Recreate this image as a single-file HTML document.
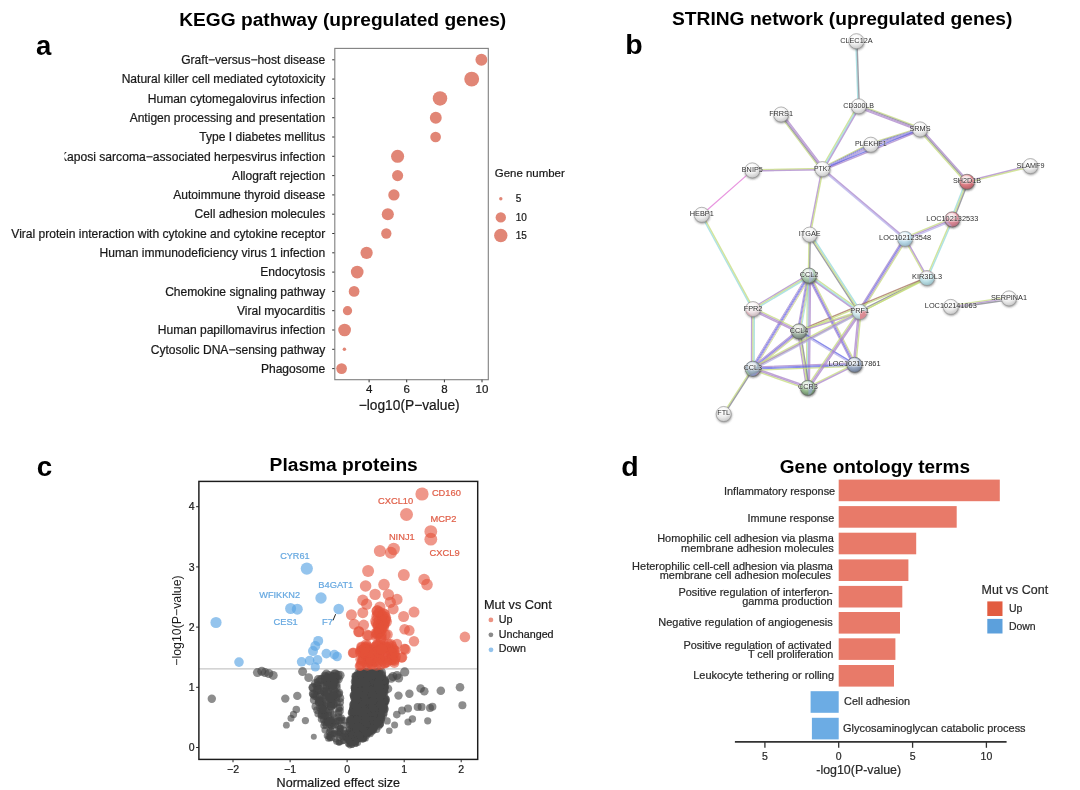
<!DOCTYPE html>
<html><head><meta charset="utf-8"><title>Figure</title>
<style>html,body{margin:0;padding:0;background:#fff;}svg{display:block;font-family:"Liberation Sans",sans-serif;transform:translateZ(0);}</style></head><body>
<svg width="1080" height="790" viewBox="0 0 1080 790">
<filter id="soft" x="0" y="0" width="100%" height="100%" filterUnits="userSpaceOnUse"><feGaussianBlur stdDeviation="0.45"/></filter>
<g filter="url(#soft)">
<text x="36.0" y="55.4" font-size="27.5" font-weight="bold" fill="#000">a</text>
<text x="625.2" y="54.0" font-size="28.5" font-weight="bold" fill="#000">b</text>
<text x="36.8" y="475.6" font-size="27.8" font-weight="bold" fill="#000">c</text>
<text x="621.3" y="475.6" font-size="28.5" font-weight="bold" fill="#000">d</text>
<text x="179.2" y="25.8" font-size="19.2" font-weight="bold" textLength="327.0" lengthAdjust="spacingAndGlyphs" fill="#000">KEGG pathway (upregulated genes)</text>
<text x="672.0" y="24.6" font-size="19.2" font-weight="bold" textLength="340.4" lengthAdjust="spacingAndGlyphs" fill="#000">STRING network (upregulated genes)</text>
<text x="269.6" y="471.4" font-size="19.2" font-weight="bold" textLength="148.2" lengthAdjust="spacingAndGlyphs" fill="#000">Plasma proteins</text>
<text x="779.8" y="472.6" font-size="19" font-weight="bold" textLength="190.2" lengthAdjust="spacingAndGlyphs" fill="#000">Gene ontology terms</text>
<clipPath id="clipA"><rect x="64.5" y="40" width="275" height="350"/></clipPath>
<text x="325.2" y="64.0" font-size="12.05" text-anchor="end" fill="#1a1a1a" stroke="#1a1a1a" stroke-width="0.22">Graft−versus−host disease</text>
<text x="325.2" y="83.3" font-size="12.05" text-anchor="end" fill="#1a1a1a" stroke="#1a1a1a" stroke-width="0.22">Natural killer cell mediated cytotoxicity</text>
<text x="325.2" y="102.6" font-size="12.05" text-anchor="end" fill="#1a1a1a" stroke="#1a1a1a" stroke-width="0.22">Human cytomegalovirus infection</text>
<text x="325.2" y="121.9" font-size="12.05" text-anchor="end" fill="#1a1a1a" stroke="#1a1a1a" stroke-width="0.22">Antigen processing and presentation</text>
<text x="325.2" y="141.2" font-size="12.05" text-anchor="end" fill="#1a1a1a" stroke="#1a1a1a" stroke-width="0.22">Type I diabetes mellitus</text>
<text x="325.2" y="160.5" font-size="12.05" text-anchor="end" textLength="266.3" lengthAdjust="spacingAndGlyphs" fill="#1a1a1a" clip-path="url(#clipA)" stroke="#1a1a1a" stroke-width="0.22">Kaposi sarcoma−associated herpesvirus infection</text>
<text x="325.2" y="179.8" font-size="12.05" text-anchor="end" fill="#1a1a1a" stroke="#1a1a1a" stroke-width="0.22">Allograft rejection</text>
<text x="325.2" y="199.1" font-size="12.05" text-anchor="end" fill="#1a1a1a" stroke="#1a1a1a" stroke-width="0.22">Autoimmune thyroid disease</text>
<text x="325.2" y="218.4" font-size="12.05" text-anchor="end" fill="#1a1a1a" stroke="#1a1a1a" stroke-width="0.22">Cell adhesion molecules</text>
<text x="325.2" y="237.7" font-size="12.05" text-anchor="end" fill="#1a1a1a" stroke="#1a1a1a" stroke-width="0.22">Viral protein interaction with cytokine and cytokine receptor</text>
<text x="325.2" y="257.0" font-size="12.05" text-anchor="end" fill="#1a1a1a" stroke="#1a1a1a" stroke-width="0.22">Human immunodeficiency virus 1 infection</text>
<text x="325.2" y="276.3" font-size="12.05" text-anchor="end" fill="#1a1a1a" stroke="#1a1a1a" stroke-width="0.22">Endocytosis</text>
<text x="325.2" y="295.6" font-size="12.05" text-anchor="end" fill="#1a1a1a" stroke="#1a1a1a" stroke-width="0.22">Chemokine signaling pathway</text>
<text x="325.2" y="314.9" font-size="12.05" text-anchor="end" fill="#1a1a1a" stroke="#1a1a1a" stroke-width="0.22">Viral myocarditis</text>
<text x="325.2" y="334.2" font-size="12.05" text-anchor="end" fill="#1a1a1a" stroke="#1a1a1a" stroke-width="0.22">Human papillomavirus infection</text>
<text x="325.2" y="353.5" font-size="12.05" text-anchor="end" fill="#1a1a1a" stroke="#1a1a1a" stroke-width="0.22">Cytosolic DNA−sensing pathway</text>
<text x="325.2" y="372.8" font-size="12.05" text-anchor="end" fill="#1a1a1a" stroke="#1a1a1a" stroke-width="0.22">Phagosome</text>
<line x1="332.2" x2="334.8" y1="59.8" y2="59.8" stroke="#333" stroke-width="1"/>
<line x1="332.2" x2="334.8" y1="79.1" y2="79.1" stroke="#333" stroke-width="1"/>
<line x1="332.2" x2="334.8" y1="98.4" y2="98.4" stroke="#333" stroke-width="1"/>
<line x1="332.2" x2="334.8" y1="117.7" y2="117.7" stroke="#333" stroke-width="1"/>
<line x1="332.2" x2="334.8" y1="137.0" y2="137.0" stroke="#333" stroke-width="1"/>
<line x1="332.2" x2="334.8" y1="156.3" y2="156.3" stroke="#333" stroke-width="1"/>
<line x1="332.2" x2="334.8" y1="175.6" y2="175.6" stroke="#333" stroke-width="1"/>
<line x1="332.2" x2="334.8" y1="194.9" y2="194.9" stroke="#333" stroke-width="1"/>
<line x1="332.2" x2="334.8" y1="214.2" y2="214.2" stroke="#333" stroke-width="1"/>
<line x1="332.2" x2="334.8" y1="233.5" y2="233.5" stroke="#333" stroke-width="1"/>
<line x1="332.2" x2="334.8" y1="252.8" y2="252.8" stroke="#333" stroke-width="1"/>
<line x1="332.2" x2="334.8" y1="272.1" y2="272.1" stroke="#333" stroke-width="1"/>
<line x1="332.2" x2="334.8" y1="291.4" y2="291.4" stroke="#333" stroke-width="1"/>
<line x1="332.2" x2="334.8" y1="310.7" y2="310.7" stroke="#333" stroke-width="1"/>
<line x1="332.2" x2="334.8" y1="330.0" y2="330.0" stroke="#333" stroke-width="1"/>
<line x1="332.2" x2="334.8" y1="349.3" y2="349.3" stroke="#333" stroke-width="1"/>
<line x1="332.2" x2="334.8" y1="368.6" y2="368.6" stroke="#333" stroke-width="1"/>
<rect x="334.8" y="48.4" width="153.5" height="331.3" fill="none" stroke="#7f7f7f" stroke-width="1.1"/>
<circle cx="481.4" cy="59.8" r="5.95" fill="#E18676"/>
<circle cx="471.7" cy="79.1" r="7.45" fill="#E18676"/>
<circle cx="440.0" cy="98.4" r="7.25" fill="#E18676"/>
<circle cx="435.8" cy="117.7" r="5.95" fill="#E18676"/>
<circle cx="435.6" cy="137.0" r="5.35" fill="#E18676"/>
<circle cx="397.6" cy="156.3" r="6.55" fill="#E18676"/>
<circle cx="397.6" cy="175.6" r="5.55" fill="#E18676"/>
<circle cx="393.9" cy="194.9" r="5.65" fill="#E18676"/>
<circle cx="387.8" cy="214.2" r="6.05" fill="#E18676"/>
<circle cx="386.3" cy="233.5" r="5.15" fill="#E18676"/>
<circle cx="366.6" cy="252.8" r="6.15" fill="#E18676"/>
<circle cx="357.2" cy="272.1" r="6.35" fill="#E18676"/>
<circle cx="354.1" cy="291.4" r="5.35" fill="#E18676"/>
<circle cx="347.5" cy="310.7" r="4.65" fill="#E18676"/>
<circle cx="344.6" cy="330.0" r="6.35" fill="#E18676"/>
<circle cx="344.4" cy="349.3" r="1.75" fill="#E18676"/>
<circle cx="341.6" cy="368.6" r="5.35" fill="#E18676"/>
<line x1="369.1" x2="369.1" y1="379.7" y2="382.3" stroke="#333" stroke-width="1"/>
<text x="369.1" y="393.1" font-size="11.5" text-anchor="middle" fill="#1a1a1a" stroke="#1a1a1a" stroke-width="0.22">4</text>
<line x1="406.7" x2="406.7" y1="379.7" y2="382.3" stroke="#333" stroke-width="1"/>
<text x="406.7" y="393.1" font-size="11.5" text-anchor="middle" fill="#1a1a1a" stroke="#1a1a1a" stroke-width="0.22">6</text>
<line x1="444.4" x2="444.4" y1="379.7" y2="382.3" stroke="#333" stroke-width="1"/>
<text x="444.4" y="393.1" font-size="11.5" text-anchor="middle" fill="#1a1a1a" stroke="#1a1a1a" stroke-width="0.22">8</text>
<line x1="482.0" x2="482.0" y1="379.7" y2="382.3" stroke="#333" stroke-width="1"/>
<text x="482.0" y="393.1" font-size="11.5" text-anchor="middle" fill="#1a1a1a" stroke="#1a1a1a" stroke-width="0.22">10</text>
<text x="409.2" y="409.6" font-size="13.8" text-anchor="middle" textLength="101.0" lengthAdjust="spacingAndGlyphs" fill="#1a1a1a" stroke="#1a1a1a" stroke-width="0.22">−log10(P−value)</text>
<text x="494.8" y="176.9" font-size="11.5" textLength="70.0" lengthAdjust="spacingAndGlyphs" fill="#1a1a1a" stroke="#1a1a1a" stroke-width="0.22">Gene number</text>
<circle cx="500.8" cy="198.7" r="1.70" fill="#E18676"/>
<text x="515.8" y="201.9" font-size="10" fill="#1a1a1a" stroke="#1a1a1a" stroke-width="0.22">5</text>
<circle cx="500.8" cy="217.4" r="5.20" fill="#E18676"/>
<text x="515.8" y="220.8" font-size="10" fill="#1a1a1a" stroke="#1a1a1a" stroke-width="0.22">10</text>
<circle cx="500.8" cy="235.5" r="6.70" fill="#E18676"/>
<text x="515.8" y="238.8" font-size="10" fill="#1a1a1a" stroke="#1a1a1a" stroke-width="0.22">15</text>
<defs>
<radialGradient id="g_white" cx="0.42" cy="0.30" r="0.75"><stop offset="0" stop-color="#ffffff"/><stop offset="0.55" stop-color="#ececec"/><stop offset="1" stop-color="#c2c2c2"/></radialGradient>
<radialGradient id="g_red" cx="0.42" cy="0.30" r="0.75"><stop offset="0" stop-color="#fbeaea"/><stop offset="0.55" stop-color="#dd7d84"/><stop offset="1" stop-color="#b05a62"/></radialGradient>
<radialGradient id="g_pink" cx="0.42" cy="0.30" r="0.75"><stop offset="0" stop-color="#fdf0f2"/><stop offset="0.55" stop-color="#dc8b98"/><stop offset="1" stop-color="#b06878"/></radialGradient>
<radialGradient id="g_lblue" cx="0.42" cy="0.30" r="0.75"><stop offset="0" stop-color="#ffffff"/><stop offset="0.55" stop-color="#bcdcea"/><stop offset="1" stop-color="#8fb2c2"/></radialGradient>
<radialGradient id="g_lcyan" cx="0.42" cy="0.30" r="0.75"><stop offset="0" stop-color="#ffffff"/><stop offset="0.55" stop-color="#bfe2e8"/><stop offset="1" stop-color="#90b8c0"/></radialGradient>
<radialGradient id="g_prf" cx="0.42" cy="0.30" r="0.75"><stop offset="0" stop-color="#ffffff"/><stop offset="0.55" stop-color="#cfe6ea"/><stop offset="1" stop-color="#98b6bc"/></radialGradient>
<radialGradient id="g_ccl2" cx="0.42" cy="0.30" r="0.75"><stop offset="0" stop-color="#f2f8ee"/><stop offset="0.55" stop-color="#aecdb0"/><stop offset="1" stop-color="#7a9482"/></radialGradient>
<radialGradient id="g_ccl4" cx="0.42" cy="0.30" r="0.75"><stop offset="0" stop-color="#f4f4e8"/><stop offset="0.55" stop-color="#a3b4a6"/><stop offset="1" stop-color="#6c7c72"/></radialGradient>
<radialGradient id="g_ccl3" cx="0.42" cy="0.30" r="0.75"><stop offset="0" stop-color="#eef2f6"/><stop offset="0.55" stop-color="#9fb2c2"/><stop offset="1" stop-color="#6c7a88"/></radialGradient>
<radialGradient id="g_ccr3" cx="0.42" cy="0.30" r="0.75"><stop offset="0" stop-color="#e8f2e2"/><stop offset="0.55" stop-color="#96ba8e"/><stop offset="1" stop-color="#5e7c5e"/></radialGradient>
<radialGradient id="g_bgray" cx="0.42" cy="0.30" r="0.75"><stop offset="0" stop-color="#eef2f8"/><stop offset="0.55" stop-color="#98a8c2"/><stop offset="1" stop-color="#68768e"/></radialGradient>
<radialGradient id="g_fpr" cx="0.42" cy="0.30" r="0.75"><stop offset="0" stop-color="#ffffff"/><stop offset="0.55" stop-color="#efe3e6"/><stop offset="1" stop-color="#c0aeb4"/></radialGradient>
<filter id="nsh" x="-50%" y="-50%" width="200%" height="200%"><feGaussianBlur stdDeviation="0.9"/></filter>
<filter id="eb" x="-5%" y="-5%" width="110%" height="110%"><feGaussianBlur stdDeviation="0.6"/></filter>
</defs>
<g filter="url(#eb)" stroke-linecap="round">
<line x1="855.8" y1="41.2" x2="858.1" y2="106.3" stroke="#93d8dc" stroke-width="1.42" stroke-opacity="0.74"/>
<line x1="857.0" y1="41.2" x2="859.3" y2="106.3" stroke="#7e7e88" stroke-width="1.42" stroke-opacity="0.74"/>
<line x1="859.3" y1="104.8" x2="920.6" y2="127.9" stroke="#c3da78" stroke-width="1.19" stroke-opacity="0.74"/>
<line x1="858.9" y1="105.8" x2="920.2" y2="128.9" stroke="#7e7e88" stroke-width="1.19" stroke-opacity="0.74"/>
<line x1="858.5" y1="106.8" x2="919.8" y2="129.9" stroke="#a883c9" stroke-width="1.19" stroke-opacity="0.74"/>
<line x1="858.1" y1="107.8" x2="919.4" y2="130.9" stroke="#a883c9" stroke-width="1.19" stroke-opacity="0.74"/>
<line x1="857.6" y1="105.7" x2="821.4" y2="168.5" stroke="#c3da78" stroke-width="1.42" stroke-opacity="0.74"/>
<line x1="858.7" y1="106.3" x2="822.5" y2="169.1" stroke="#93d8dc" stroke-width="1.42" stroke-opacity="0.74"/>
<line x1="859.8" y1="106.9" x2="823.6" y2="169.7" stroke="#a883c9" stroke-width="1.42" stroke-opacity="0.74"/>
<line x1="779.8" y1="115.5" x2="821.2" y2="170.1" stroke="#c3da78" stroke-width="1.19" stroke-opacity="0.74"/>
<line x1="780.7" y1="114.8" x2="822.1" y2="169.4" stroke="#7e7e88" stroke-width="1.19" stroke-opacity="0.74"/>
<line x1="781.5" y1="114.2" x2="822.9" y2="168.8" stroke="#a883c9" stroke-width="1.19" stroke-opacity="0.74"/>
<line x1="782.4" y1="113.5" x2="823.8" y2="168.1" stroke="#a883c9" stroke-width="1.19" stroke-opacity="0.74"/>
<line x1="821.7" y1="167.6" x2="870.0" y2="143.2" stroke="#c3da78" stroke-width="0.98" stroke-opacity="0.74"/>
<line x1="822.1" y1="168.3" x2="870.4" y2="143.9" stroke="#7e7e88" stroke-width="0.98" stroke-opacity="0.74"/>
<line x1="822.5" y1="169.1" x2="870.8" y2="144.7" stroke="#5f63e2" stroke-width="0.98" stroke-opacity="0.74"/>
<line x1="822.9" y1="169.9" x2="871.2" y2="145.5" stroke="#a883c9" stroke-width="0.98" stroke-opacity="0.74"/>
<line x1="823.3" y1="170.6" x2="871.6" y2="146.2" stroke="#a883c9" stroke-width="0.98" stroke-opacity="0.74"/>
<line x1="870.3" y1="143.1" x2="919.5" y2="127.8" stroke="#c3da78" stroke-width="0.98" stroke-opacity="0.74"/>
<line x1="870.5" y1="143.9" x2="919.7" y2="128.6" stroke="#7e7e88" stroke-width="0.98" stroke-opacity="0.74"/>
<line x1="870.8" y1="144.7" x2="920.0" y2="129.4" stroke="#5f63e2" stroke-width="0.98" stroke-opacity="0.74"/>
<line x1="871.1" y1="145.5" x2="920.3" y2="130.2" stroke="#a883c9" stroke-width="0.98" stroke-opacity="0.74"/>
<line x1="871.3" y1="146.3" x2="920.5" y2="131.0" stroke="#a883c9" stroke-width="0.98" stroke-opacity="0.74"/>
<line x1="822.0" y1="167.9" x2="919.5" y2="128.2" stroke="#b4aeea" stroke-width="1.42" stroke-opacity="0.74"/>
<line x1="822.5" y1="169.1" x2="920.0" y2="129.4" stroke="#5f63e2" stroke-width="1.42" stroke-opacity="0.74"/>
<line x1="823.0" y1="170.3" x2="920.5" y2="130.6" stroke="#a883c9" stroke-width="1.42" stroke-opacity="0.74"/>
<line x1="752.3" y1="169.8" x2="822.5" y2="168.5" stroke="#c3da78" stroke-width="1.42" stroke-opacity="0.74"/>
<line x1="752.3" y1="171.0" x2="822.5" y2="169.7" stroke="#a883c9" stroke-width="1.42" stroke-opacity="0.74"/>
<line x1="752.3" y1="170.4" x2="701.8" y2="214.8" stroke="#e070d4" stroke-width="1.22" stroke-opacity="0.74"/>
<line x1="701.2" y1="215.1" x2="752.4" y2="309.4" stroke="#93d8dc" stroke-width="1.42" stroke-opacity="0.74"/>
<line x1="702.4" y1="214.5" x2="753.6" y2="308.8" stroke="#c3da78" stroke-width="1.42" stroke-opacity="0.74"/>
<line x1="821.9" y1="169.0" x2="809.1" y2="234.5" stroke="#a883c9" stroke-width="1.42" stroke-opacity="0.74"/>
<line x1="823.1" y1="169.2" x2="810.3" y2="234.7" stroke="#c3da78" stroke-width="1.42" stroke-opacity="0.74"/>
<line x1="822.9" y1="168.6" x2="905.5" y2="238.4" stroke="#a883c9" stroke-width="1.42" stroke-opacity="0.74"/>
<line x1="822.1" y1="169.6" x2="904.7" y2="239.4" stroke="#b4aeea" stroke-width="1.42" stroke-opacity="0.74"/>
<line x1="919.0" y1="130.3" x2="966.0" y2="182.7" stroke="#c3da78" stroke-width="1.42" stroke-opacity="0.74"/>
<line x1="920.0" y1="129.4" x2="967.0" y2="181.8" stroke="#7e7e88" stroke-width="1.42" stroke-opacity="0.74"/>
<line x1="921.0" y1="128.5" x2="968.0" y2="180.9" stroke="#a883c9" stroke-width="1.42" stroke-opacity="0.74"/>
<line x1="966.8" y1="181.2" x2="1030.2" y2="165.5" stroke="#a883c9" stroke-width="1.42" stroke-opacity="0.74"/>
<line x1="967.2" y1="182.4" x2="1030.6" y2="166.7" stroke="#c3da78" stroke-width="1.42" stroke-opacity="0.74"/>
<line x1="965.8" y1="181.3" x2="951.1" y2="218.9" stroke="#93d8dc" stroke-width="1.42" stroke-opacity="0.74"/>
<line x1="967.0" y1="181.8" x2="952.3" y2="219.4" stroke="#c3da78" stroke-width="1.42" stroke-opacity="0.74"/>
<line x1="968.2" y1="182.3" x2="953.5" y2="219.9" stroke="#7e7e88" stroke-width="1.42" stroke-opacity="0.74"/>
<line x1="951.8" y1="218.2" x2="904.6" y2="237.7" stroke="#c3da78" stroke-width="1.42" stroke-opacity="0.74"/>
<line x1="952.3" y1="219.4" x2="905.1" y2="238.9" stroke="#a883c9" stroke-width="1.42" stroke-opacity="0.74"/>
<line x1="952.8" y1="220.6" x2="905.6" y2="240.1" stroke="#b4aeea" stroke-width="1.42" stroke-opacity="0.74"/>
<line x1="951.7" y1="219.1" x2="926.4" y2="277.7" stroke="#c3da78" stroke-width="1.42" stroke-opacity="0.74"/>
<line x1="952.9" y1="219.7" x2="927.6" y2="278.3" stroke="#93d8dc" stroke-width="1.42" stroke-opacity="0.74"/>
<line x1="904.5" y1="239.2" x2="926.4" y2="278.3" stroke="#c3da78" stroke-width="1.42" stroke-opacity="0.74"/>
<line x1="905.7" y1="238.6" x2="927.6" y2="277.7" stroke="#a883c9" stroke-width="1.42" stroke-opacity="0.74"/>
<line x1="903.7" y1="238.0" x2="858.3" y2="310.9" stroke="#a883c9" stroke-width="1.19" stroke-opacity="0.74"/>
<line x1="904.6" y1="238.6" x2="859.2" y2="311.5" stroke="#5f63e2" stroke-width="1.19" stroke-opacity="0.74"/>
<line x1="905.6" y1="239.2" x2="860.2" y2="312.1" stroke="#a883c9" stroke-width="1.19" stroke-opacity="0.74"/>
<line x1="906.5" y1="239.8" x2="861.1" y2="312.7" stroke="#c3da78" stroke-width="1.19" stroke-opacity="0.74"/>
<line x1="926.7" y1="277.4" x2="859.4" y2="311.2" stroke="#7e7e88" stroke-width="1.42" stroke-opacity="0.74"/>
<line x1="927.3" y1="278.6" x2="860.0" y2="312.4" stroke="#c3da78" stroke-width="1.42" stroke-opacity="0.74"/>
<line x1="926.8" y1="277.4" x2="798.8" y2="330.7" stroke="#a06a58" stroke-width="1.42" stroke-opacity="0.74"/>
<line x1="927.2" y1="278.6" x2="799.2" y2="331.9" stroke="#c3da78" stroke-width="1.42" stroke-opacity="0.74"/>
<line x1="927.0" y1="278.0" x2="752.8" y2="368.7" stroke="#c3da78" stroke-width="1.22" stroke-opacity="0.74"/>
<line x1="809.1" y1="234.6" x2="808.4" y2="275.6" stroke="#c3da78" stroke-width="1.42" stroke-opacity="0.74"/>
<line x1="810.3" y1="234.6" x2="809.6" y2="275.6" stroke="#7e7e88" stroke-width="1.42" stroke-opacity="0.74"/>
<line x1="808.6" y1="235.3" x2="858.6" y2="312.5" stroke="#7e7e88" stroke-width="1.42" stroke-opacity="0.74"/>
<line x1="809.7" y1="234.6" x2="859.7" y2="311.8" stroke="#c3da78" stroke-width="1.42" stroke-opacity="0.74"/>
<line x1="810.8" y1="233.9" x2="860.8" y2="311.1" stroke="#93d8dc" stroke-width="1.42" stroke-opacity="0.74"/>
<line x1="808.3" y1="274.5" x2="752.3" y2="308.0" stroke="#a883c9" stroke-width="1.42" stroke-opacity="0.74"/>
<line x1="809.0" y1="275.6" x2="753.0" y2="309.1" stroke="#c3da78" stroke-width="1.42" stroke-opacity="0.74"/>
<line x1="809.7" y1="276.7" x2="753.7" y2="310.2" stroke="#93d8dc" stroke-width="1.42" stroke-opacity="0.74"/>
<line x1="807.3" y1="275.3" x2="797.3" y2="331.0" stroke="#a883c9" stroke-width="0.98" stroke-opacity="0.74"/>
<line x1="808.2" y1="275.4" x2="798.2" y2="331.1" stroke="#5f63e2" stroke-width="0.98" stroke-opacity="0.74"/>
<line x1="809.0" y1="275.6" x2="799.0" y2="331.3" stroke="#a883c9" stroke-width="0.98" stroke-opacity="0.74"/>
<line x1="809.8" y1="275.8" x2="799.8" y2="331.5" stroke="#c3da78" stroke-width="0.98" stroke-opacity="0.74"/>
<line x1="810.7" y1="275.9" x2="800.7" y2="331.6" stroke="#93d8dc" stroke-width="0.98" stroke-opacity="0.74"/>
<line x1="807.5" y1="274.7" x2="751.3" y2="367.8" stroke="#a883c9" stroke-width="0.98" stroke-opacity="0.74"/>
<line x1="808.3" y1="275.2" x2="752.1" y2="368.3" stroke="#5f63e2" stroke-width="0.98" stroke-opacity="0.74"/>
<line x1="809.0" y1="275.6" x2="752.8" y2="368.7" stroke="#5f63e2" stroke-width="0.98" stroke-opacity="0.74"/>
<line x1="809.7" y1="276.0" x2="753.5" y2="369.1" stroke="#a883c9" stroke-width="0.98" stroke-opacity="0.74"/>
<line x1="810.5" y1="276.5" x2="754.3" y2="369.6" stroke="#c3da78" stroke-width="0.98" stroke-opacity="0.74"/>
<line x1="807.4" y1="275.6" x2="806.3" y2="387.9" stroke="#c3da78" stroke-width="1.19" stroke-opacity="0.74"/>
<line x1="808.5" y1="275.6" x2="807.4" y2="387.9" stroke="#93d8dc" stroke-width="1.19" stroke-opacity="0.74"/>
<line x1="809.5" y1="275.6" x2="808.4" y2="387.9" stroke="#a883c9" stroke-width="1.19" stroke-opacity="0.74"/>
<line x1="810.6" y1="275.6" x2="809.5" y2="387.9" stroke="#a883c9" stroke-width="1.19" stroke-opacity="0.74"/>
<line x1="809.8" y1="274.5" x2="860.5" y2="310.7" stroke="#c3da78" stroke-width="1.42" stroke-opacity="0.74"/>
<line x1="809.0" y1="275.6" x2="859.7" y2="311.8" stroke="#93d8dc" stroke-width="1.42" stroke-opacity="0.74"/>
<line x1="808.2" y1="276.7" x2="858.9" y2="312.9" stroke="#a883c9" stroke-width="1.42" stroke-opacity="0.74"/>
<line x1="807.6" y1="276.3" x2="853.2" y2="365.5" stroke="#a883c9" stroke-width="1.19" stroke-opacity="0.74"/>
<line x1="808.5" y1="275.8" x2="854.1" y2="365.0" stroke="#5f63e2" stroke-width="1.19" stroke-opacity="0.74"/>
<line x1="809.5" y1="275.4" x2="855.1" y2="364.6" stroke="#a883c9" stroke-width="1.19" stroke-opacity="0.74"/>
<line x1="810.4" y1="274.9" x2="856.0" y2="364.1" stroke="#c3da78" stroke-width="1.19" stroke-opacity="0.74"/>
<line x1="753.6" y1="307.9" x2="799.6" y2="330.1" stroke="#c3da78" stroke-width="1.42" stroke-opacity="0.74"/>
<line x1="753.0" y1="309.1" x2="799.0" y2="331.3" stroke="#a883c9" stroke-width="1.42" stroke-opacity="0.74"/>
<line x1="752.4" y1="310.3" x2="798.4" y2="332.5" stroke="#a883c9" stroke-width="1.42" stroke-opacity="0.74"/>
<line x1="751.7" y1="309.1" x2="751.5" y2="368.7" stroke="#a883c9" stroke-width="1.42" stroke-opacity="0.74"/>
<line x1="753.0" y1="309.1" x2="752.8" y2="368.7" stroke="#c3da78" stroke-width="1.42" stroke-opacity="0.74"/>
<line x1="754.3" y1="309.1" x2="754.1" y2="368.7" stroke="#93d8dc" stroke-width="1.42" stroke-opacity="0.74"/>
<line x1="798.0" y1="330.0" x2="751.8" y2="367.4" stroke="#a883c9" stroke-width="1.19" stroke-opacity="0.74"/>
<line x1="798.7" y1="330.9" x2="752.5" y2="368.3" stroke="#5f63e2" stroke-width="1.19" stroke-opacity="0.74"/>
<line x1="799.3" y1="331.7" x2="753.1" y2="369.1" stroke="#a883c9" stroke-width="1.19" stroke-opacity="0.74"/>
<line x1="800.0" y1="332.6" x2="753.8" y2="370.0" stroke="#c3da78" stroke-width="1.19" stroke-opacity="0.74"/>
<line x1="797.7" y1="331.5" x2="806.6" y2="388.1" stroke="#a883c9" stroke-width="1.42" stroke-opacity="0.74"/>
<line x1="799.0" y1="331.3" x2="807.9" y2="387.9" stroke="#c3da78" stroke-width="1.42" stroke-opacity="0.74"/>
<line x1="800.3" y1="331.1" x2="809.2" y2="387.7" stroke="#7e7e88" stroke-width="1.42" stroke-opacity="0.74"/>
<line x1="799.3" y1="330.7" x2="854.9" y2="364.2" stroke="#5f63e2" stroke-width="1.42" stroke-opacity="0.74"/>
<line x1="798.7" y1="331.9" x2="854.3" y2="365.4" stroke="#b4aeea" stroke-width="1.42" stroke-opacity="0.74"/>
<line x1="798.8" y1="330.7" x2="859.5" y2="311.2" stroke="#c3da78" stroke-width="1.42" stroke-opacity="0.74"/>
<line x1="799.2" y1="331.9" x2="859.9" y2="312.4" stroke="#a883c9" stroke-width="1.42" stroke-opacity="0.74"/>
<line x1="753.2" y1="367.5" x2="808.3" y2="386.7" stroke="#a883c9" stroke-width="1.42" stroke-opacity="0.74"/>
<line x1="752.8" y1="368.7" x2="807.9" y2="387.9" stroke="#a883c9" stroke-width="1.42" stroke-opacity="0.74"/>
<line x1="752.4" y1="369.9" x2="807.5" y2="389.1" stroke="#c3da78" stroke-width="1.42" stroke-opacity="0.74"/>
<line x1="752.7" y1="367.1" x2="854.5" y2="363.2" stroke="#a883c9" stroke-width="1.19" stroke-opacity="0.74"/>
<line x1="752.8" y1="368.2" x2="854.6" y2="364.3" stroke="#5f63e2" stroke-width="1.19" stroke-opacity="0.74"/>
<line x1="752.8" y1="369.2" x2="854.6" y2="365.3" stroke="#5f63e2" stroke-width="1.19" stroke-opacity="0.74"/>
<line x1="752.9" y1="370.3" x2="854.7" y2="366.4" stroke="#c3da78" stroke-width="1.19" stroke-opacity="0.74"/>
<line x1="752.2" y1="367.6" x2="859.1" y2="310.7" stroke="#c3da78" stroke-width="1.42" stroke-opacity="0.74"/>
<line x1="752.8" y1="368.7" x2="859.7" y2="311.8" stroke="#a883c9" stroke-width="1.42" stroke-opacity="0.74"/>
<line x1="753.4" y1="369.8" x2="860.3" y2="312.9" stroke="#b4aeea" stroke-width="1.42" stroke-opacity="0.74"/>
<line x1="752.3" y1="368.3" x2="723.2" y2="413.6" stroke="#c3da78" stroke-width="1.42" stroke-opacity="0.74"/>
<line x1="753.3" y1="369.1" x2="724.2" y2="414.4" stroke="#7e7e88" stroke-width="1.42" stroke-opacity="0.74"/>
<line x1="807.6" y1="387.3" x2="854.3" y2="364.2" stroke="#c3da78" stroke-width="1.42" stroke-opacity="0.74"/>
<line x1="808.2" y1="388.5" x2="854.9" y2="365.4" stroke="#a883c9" stroke-width="1.42" stroke-opacity="0.74"/>
<line x1="806.8" y1="387.2" x2="858.6" y2="311.1" stroke="#c3da78" stroke-width="1.42" stroke-opacity="0.74"/>
<line x1="807.9" y1="387.9" x2="859.7" y2="311.8" stroke="#a883c9" stroke-width="1.42" stroke-opacity="0.74"/>
<line x1="809.0" y1="388.6" x2="860.8" y2="312.5" stroke="#a883c9" stroke-width="1.42" stroke-opacity="0.74"/>
<line x1="858.4" y1="311.7" x2="853.3" y2="364.7" stroke="#a883c9" stroke-width="1.42" stroke-opacity="0.74"/>
<line x1="859.7" y1="311.8" x2="854.6" y2="364.8" stroke="#a883c9" stroke-width="1.42" stroke-opacity="0.74"/>
<line x1="861.0" y1="311.9" x2="855.9" y2="364.9" stroke="#c3da78" stroke-width="1.42" stroke-opacity="0.74"/>
<line x1="950.6" y1="305.6" x2="1008.8" y2="297.1" stroke="#c3da78" stroke-width="1.42" stroke-opacity="0.74"/>
<line x1="950.8" y1="306.9" x2="1009.0" y2="298.4" stroke="#a883c9" stroke-width="1.42" stroke-opacity="0.74"/>
<line x1="951.0" y1="308.2" x2="1009.2" y2="299.7" stroke="#7e7e88" stroke-width="1.42" stroke-opacity="0.74"/>
</g>
<ellipse cx="856.8" cy="42.7" rx="7.65" ry="7.35" fill="#4a4a4a" opacity="0.6" filter="url(#nsh)"/>
<circle cx="856.4" cy="41.2" r="7.55" fill="url(#g_white)" stroke="#929292" stroke-width="0.65"/>
<ellipse cx="855.8" cy="37.8" rx="4.6" ry="2.9" fill="#fff" opacity="0.55"/>
<ellipse cx="859.1" cy="107.8" rx="7.65" ry="7.35" fill="#4a4a4a" opacity="0.6" filter="url(#nsh)"/>
<circle cx="858.7" cy="106.3" r="7.55" fill="url(#g_white)" stroke="#929292" stroke-width="0.65"/>
<ellipse cx="858.1" cy="102.9" rx="4.6" ry="2.9" fill="#fff" opacity="0.55"/>
<ellipse cx="781.5" cy="116.0" rx="7.65" ry="7.35" fill="#4a4a4a" opacity="0.6" filter="url(#nsh)"/>
<circle cx="781.1" cy="114.5" r="7.55" fill="url(#g_white)" stroke="#929292" stroke-width="0.65"/>
<ellipse cx="780.5" cy="111.1" rx="4.6" ry="2.9" fill="#fff" opacity="0.55"/>
<ellipse cx="920.4" cy="130.9" rx="7.65" ry="7.35" fill="#4a4a4a" opacity="0.6" filter="url(#nsh)"/>
<circle cx="920.0" cy="129.4" r="7.55" fill="url(#g_white)" stroke="#929292" stroke-width="0.65"/>
<ellipse cx="919.4" cy="126.0" rx="4.6" ry="2.9" fill="#fff" opacity="0.55"/>
<ellipse cx="871.2" cy="146.2" rx="7.65" ry="7.35" fill="#4a4a4a" opacity="0.6" filter="url(#nsh)"/>
<circle cx="870.8" cy="144.7" r="7.55" fill="url(#g_white)" stroke="#929292" stroke-width="0.65"/>
<ellipse cx="870.2" cy="141.3" rx="4.6" ry="2.9" fill="#fff" opacity="0.55"/>
<ellipse cx="822.9" cy="170.6" rx="7.65" ry="7.35" fill="#4a4a4a" opacity="0.6" filter="url(#nsh)"/>
<circle cx="822.5" cy="169.1" r="7.55" fill="url(#g_white)" stroke="#929292" stroke-width="0.65"/>
<ellipse cx="821.9" cy="165.7" rx="4.6" ry="2.9" fill="#fff" opacity="0.55"/>
<ellipse cx="752.7" cy="171.9" rx="7.65" ry="7.35" fill="#4a4a4a" opacity="0.6" filter="url(#nsh)"/>
<circle cx="752.3" cy="170.4" r="7.55" fill="url(#g_white)" stroke="#929292" stroke-width="0.65"/>
<ellipse cx="751.7" cy="167.0" rx="4.6" ry="2.9" fill="#fff" opacity="0.55"/>
<ellipse cx="1030.8" cy="167.6" rx="7.65" ry="7.35" fill="#4a4a4a" opacity="0.6" filter="url(#nsh)"/>
<circle cx="1030.4" cy="166.1" r="7.55" fill="url(#g_white)" stroke="#929292" stroke-width="0.65"/>
<ellipse cx="1029.8" cy="162.7" rx="4.6" ry="2.9" fill="#fff" opacity="0.55"/>
<ellipse cx="967.4" cy="183.3" rx="7.65" ry="7.35" fill="#333" opacity="0.7" filter="url(#nsh)"/>
<circle cx="967.0" cy="181.8" r="7.55" fill="url(#g_red)" stroke="#666" stroke-width="0.65"/>
<ellipse cx="966.4" cy="178.4" rx="4.6" ry="2.9" fill="#fff" opacity="0.55"/>
<ellipse cx="702.2" cy="216.3" rx="7.65" ry="7.35" fill="#4a4a4a" opacity="0.6" filter="url(#nsh)"/>
<circle cx="701.8" cy="214.8" r="7.55" fill="url(#g_white)" stroke="#929292" stroke-width="0.65"/>
<ellipse cx="701.2" cy="211.4" rx="4.6" ry="2.9" fill="#fff" opacity="0.55"/>
<ellipse cx="952.7" cy="220.9" rx="7.65" ry="7.35" fill="#333" opacity="0.7" filter="url(#nsh)"/>
<circle cx="952.3" cy="219.4" r="7.55" fill="url(#g_pink)" stroke="#666" stroke-width="0.65"/>
<path d="M945.2,218.4 A7.75,7.75 0 0 0 952.3,226.6 Z" fill="#b9a4d6" opacity="0.7"/>
<ellipse cx="951.7" cy="216.0" rx="4.6" ry="2.9" fill="#fff" opacity="0.55"/>
<ellipse cx="810.1" cy="236.1" rx="7.65" ry="7.35" fill="#4a4a4a" opacity="0.6" filter="url(#nsh)"/>
<circle cx="809.7" cy="234.6" r="7.55" fill="url(#g_white)" stroke="#929292" stroke-width="0.65"/>
<ellipse cx="809.1" cy="231.2" rx="4.6" ry="2.9" fill="#fff" opacity="0.55"/>
<ellipse cx="905.5" cy="240.4" rx="7.65" ry="7.35" fill="#4a4a4a" opacity="0.6" filter="url(#nsh)"/>
<circle cx="905.1" cy="238.9" r="7.55" fill="url(#g_lblue)" stroke="#929292" stroke-width="0.65"/>
<ellipse cx="904.5" cy="235.5" rx="4.6" ry="2.9" fill="#fff" opacity="0.55"/>
<ellipse cx="809.4" cy="277.1" rx="7.65" ry="7.35" fill="#333" opacity="0.7" filter="url(#nsh)"/>
<circle cx="809.0" cy="275.6" r="7.55" fill="url(#g_ccl2)" stroke="#666" stroke-width="0.65"/>
<path d="M809.0,268.5 A7.75,7.75 0 0 1 809.0,282.7 Z" fill="#a9aede" opacity="0.6"/>
<ellipse cx="808.4" cy="272.2" rx="4.6" ry="2.9" fill="#fff" opacity="0.55"/>
<ellipse cx="927.4" cy="279.5" rx="7.65" ry="7.35" fill="#4a4a4a" opacity="0.6" filter="url(#nsh)"/>
<circle cx="927.0" cy="278.0" r="7.55" fill="url(#g_lcyan)" stroke="#929292" stroke-width="0.65"/>
<path d="M920.7,274.4 A7.75,7.75 0 0 1 933.3,274.4 A 9 9 0 0 0 920.7,274.4 Z" fill="#e59aa6" opacity="0.7"/>
<ellipse cx="926.4" cy="274.6" rx="4.6" ry="2.9" fill="#fff" opacity="0.55"/>
<ellipse cx="753.4" cy="310.6" rx="7.65" ry="7.35" fill="#4a4a4a" opacity="0.6" filter="url(#nsh)"/>
<circle cx="753.0" cy="309.1" r="7.55" fill="url(#g_fpr)" stroke="#929292" stroke-width="0.65"/>
<path d="M746.0,310.6 A7.75,7.75 0 0 0 752.0,316.3 Z" fill="#e0a0aa" opacity="0.7"/>
<ellipse cx="752.4" cy="305.7" rx="4.6" ry="2.9" fill="#fff" opacity="0.55"/>
<ellipse cx="860.1" cy="313.3" rx="7.65" ry="7.35" fill="#4a4a4a" opacity="0.6" filter="url(#nsh)"/>
<circle cx="859.7" cy="311.8" r="7.55" fill="url(#g_prf)" stroke="#929292" stroke-width="0.65"/>
<path d="M860.0,311.3 L867.1,311.3 A7.45,7.45 0 0 1 860.0,319.2 Z" fill="#e07f88" opacity="0.85"/>
<ellipse cx="859.1" cy="308.4" rx="4.6" ry="2.9" fill="#fff" opacity="0.55"/>
<ellipse cx="1009.4" cy="299.9" rx="7.65" ry="7.35" fill="#4a4a4a" opacity="0.6" filter="url(#nsh)"/>
<circle cx="1009.0" cy="298.4" r="7.55" fill="url(#g_white)" stroke="#929292" stroke-width="0.65"/>
<ellipse cx="1008.4" cy="295.0" rx="4.6" ry="2.9" fill="#fff" opacity="0.55"/>
<ellipse cx="951.2" cy="308.4" rx="7.65" ry="7.35" fill="#4a4a4a" opacity="0.6" filter="url(#nsh)"/>
<circle cx="950.8" cy="306.9" r="7.55" fill="url(#g_white)" stroke="#929292" stroke-width="0.65"/>
<ellipse cx="950.2" cy="303.5" rx="4.6" ry="2.9" fill="#fff" opacity="0.55"/>
<ellipse cx="799.4" cy="332.8" rx="7.65" ry="7.35" fill="#333" opacity="0.7" filter="url(#nsh)"/>
<circle cx="799.0" cy="331.3" r="7.55" fill="url(#g_ccl4)" stroke="#666" stroke-width="0.65"/>
<ellipse cx="798.4" cy="327.9" rx="4.6" ry="2.9" fill="#fff" opacity="0.55"/>
<ellipse cx="753.2" cy="370.2" rx="7.65" ry="7.35" fill="#333" opacity="0.7" filter="url(#nsh)"/>
<circle cx="752.8" cy="368.7" r="7.55" fill="url(#g_ccl3)" stroke="#666" stroke-width="0.65"/>
<path d="M749.8,375.3 A7.75,7.75 0 0 0 759.4,371.7 Z" fill="#8f96d0" opacity="0.7"/>
<path d="M755.3,375.5 A7.75,7.75 0 0 0 759.8,370.7 Z" fill="#c97a7a" opacity="0.6"/>
<path d="M745.5,368.7 A7.75,7.75 0 0 0 750.8,375.9 Z" fill="#9cc79a" opacity="0.75"/>
<ellipse cx="752.2" cy="365.3" rx="4.6" ry="2.9" fill="#fff" opacity="0.55"/>
<ellipse cx="855.0" cy="366.3" rx="7.65" ry="7.35" fill="#333" opacity="0.7" filter="url(#nsh)"/>
<circle cx="854.6" cy="364.8" r="7.55" fill="url(#g_bgray)" stroke="#666" stroke-width="0.65"/>
<ellipse cx="854.0" cy="361.4" rx="4.6" ry="2.9" fill="#fff" opacity="0.55"/>
<ellipse cx="808.3" cy="389.4" rx="7.65" ry="7.35" fill="#333" opacity="0.7" filter="url(#nsh)"/>
<circle cx="807.9" cy="387.9" r="7.55" fill="url(#g_ccr3)" stroke="#666" stroke-width="0.65"/>
<path d="M808.4,380.8 A7.75,7.75 0 0 1 808.4,395.0 Z" fill="#98a8d8" opacity="0.6"/>
<ellipse cx="807.3" cy="384.5" rx="4.6" ry="2.9" fill="#fff" opacity="0.55"/>
<ellipse cx="724.1" cy="415.5" rx="7.65" ry="7.35" fill="#4a4a4a" opacity="0.6" filter="url(#nsh)"/>
<circle cx="723.7" cy="414.0" r="7.55" fill="url(#g_white)" stroke="#929292" stroke-width="0.65"/>
<ellipse cx="723.1" cy="410.6" rx="4.6" ry="2.9" fill="#fff" opacity="0.55"/>
<text x="856.4" y="42.7" font-size="7.3" text-anchor="middle" fill="#2e2e2e" stroke="#fff" stroke-width="1.0" stroke-opacity="0.5" paint-order="stroke" stroke-linejoin="round">CLEC12A</text>
<text x="858.7" y="107.8" font-size="7.3" text-anchor="middle" textLength="30.8" lengthAdjust="spacingAndGlyphs" fill="#2e2e2e" stroke="#fff" stroke-width="1.0" stroke-opacity="0.5" paint-order="stroke" stroke-linejoin="round">CD300LB</text>
<text x="781.1" y="116.0" font-size="7.3" text-anchor="middle" fill="#2e2e2e" stroke="#fff" stroke-width="1.0" stroke-opacity="0.5" paint-order="stroke" stroke-linejoin="round">FRRS1</text>
<text x="920.0" y="130.8" font-size="7.3" text-anchor="middle" fill="#2e2e2e" stroke="#fff" stroke-width="1.0" stroke-opacity="0.5" paint-order="stroke" stroke-linejoin="round">SRMS</text>
<text x="870.8" y="146.1" font-size="7.3" text-anchor="middle" textLength="31.6" lengthAdjust="spacingAndGlyphs" fill="#2e2e2e" stroke="#fff" stroke-width="1.0" stroke-opacity="0.5" paint-order="stroke" stroke-linejoin="round">PLEKHF1</text>
<text x="822.5" y="170.5" font-size="7.3" text-anchor="middle" textLength="17.1" lengthAdjust="spacingAndGlyphs" fill="#2e2e2e" stroke="#fff" stroke-width="1.0" stroke-opacity="0.5" paint-order="stroke" stroke-linejoin="round">PTK7</text>
<text x="752.3" y="171.8" font-size="7.3" text-anchor="middle" fill="#2e2e2e" stroke="#fff" stroke-width="1.0" stroke-opacity="0.5" paint-order="stroke" stroke-linejoin="round">BNIP5</text>
<text x="1030.4" y="167.5" font-size="7.3" text-anchor="middle" textLength="28.0" lengthAdjust="spacingAndGlyphs" fill="#2e2e2e" stroke="#fff" stroke-width="1.0" stroke-opacity="0.5" paint-order="stroke" stroke-linejoin="round">SLAMF9</text>
<text x="967.0" y="183.2" font-size="7.3" text-anchor="middle" textLength="28.0" lengthAdjust="spacingAndGlyphs" fill="#2e2e2e" stroke="#fff" stroke-width="1.0" stroke-opacity="0.5" paint-order="stroke" stroke-linejoin="round">SH2D1B</text>
<text x="701.8" y="216.2" font-size="7.3" text-anchor="middle" fill="#2e2e2e" stroke="#fff" stroke-width="1.0" stroke-opacity="0.5" paint-order="stroke" stroke-linejoin="round">HEBP1</text>
<text x="952.3" y="220.8" font-size="7.3" text-anchor="middle" textLength="51.9" lengthAdjust="spacingAndGlyphs" fill="#2e2e2e" stroke="#fff" stroke-width="1.0" stroke-opacity="0.5" paint-order="stroke" stroke-linejoin="round">LOC102132533</text>
<text x="809.7" y="236.0" font-size="7.3" text-anchor="middle" fill="#2e2e2e" stroke="#fff" stroke-width="1.0" stroke-opacity="0.5" paint-order="stroke" stroke-linejoin="round">ITGAE</text>
<text x="905.1" y="240.3" font-size="7.3" text-anchor="middle" textLength="52.0" lengthAdjust="spacingAndGlyphs" fill="#2e2e2e" stroke="#fff" stroke-width="1.0" stroke-opacity="0.5" paint-order="stroke" stroke-linejoin="round">LOC102123548</text>
<text x="809.0" y="277.1" font-size="7.3" text-anchor="middle" fill="#2e2e2e" stroke="#fff" stroke-width="1.0" stroke-opacity="0.5" paint-order="stroke" stroke-linejoin="round">CCL2</text>
<text x="927.0" y="279.4" font-size="7.3" text-anchor="middle" textLength="30.0" lengthAdjust="spacingAndGlyphs" fill="#2e2e2e" stroke="#fff" stroke-width="1.0" stroke-opacity="0.5" paint-order="stroke" stroke-linejoin="round">KIR3DL3</text>
<text x="753.0" y="310.6" font-size="7.3" text-anchor="middle" fill="#2e2e2e" stroke="#fff" stroke-width="1.0" stroke-opacity="0.5" paint-order="stroke" stroke-linejoin="round">FPR2</text>
<text x="859.7" y="313.2" font-size="7.3" text-anchor="middle" fill="#2e2e2e" stroke="#fff" stroke-width="1.0" stroke-opacity="0.5" paint-order="stroke" stroke-linejoin="round">PRF1</text>
<text x="1009.0" y="299.8" font-size="7.3" text-anchor="middle" fill="#2e2e2e" stroke="#fff" stroke-width="1.0" stroke-opacity="0.5" paint-order="stroke" stroke-linejoin="round">SERPINA1</text>
<text x="950.8" y="308.3" font-size="7.3" text-anchor="middle" textLength="52.0" lengthAdjust="spacingAndGlyphs" fill="#2e2e2e" stroke="#fff" stroke-width="1.0" stroke-opacity="0.5" paint-order="stroke" stroke-linejoin="round">LOC102141063</text>
<text x="799.0" y="332.8" font-size="7.3" text-anchor="middle" fill="#2e2e2e" stroke="#fff" stroke-width="1.0" stroke-opacity="0.5" paint-order="stroke" stroke-linejoin="round">CCL4</text>
<text x="752.8" y="370.1" font-size="7.3" text-anchor="middle" fill="#2e2e2e" stroke="#fff" stroke-width="1.0" stroke-opacity="0.5" paint-order="stroke" stroke-linejoin="round">CCL3</text>
<text x="854.6" y="366.2" font-size="7.3" text-anchor="middle" textLength="52.0" lengthAdjust="spacingAndGlyphs" fill="#2e2e2e" stroke="#fff" stroke-width="1.0" stroke-opacity="0.5" paint-order="stroke" stroke-linejoin="round">LOC102117861</text>
<text x="807.9" y="389.3" font-size="7.3" text-anchor="middle" fill="#2e2e2e" stroke="#fff" stroke-width="1.0" stroke-opacity="0.5" paint-order="stroke" stroke-linejoin="round">CCR3</text>
<text x="723.7" y="415.4" font-size="7.3" text-anchor="middle" fill="#2e2e2e" stroke="#fff" stroke-width="1.0" stroke-opacity="0.5" paint-order="stroke" stroke-linejoin="round">FTL</text>
<clipPath id="clipC"><rect x="198.9" y="481.4" width="278.8" height="278.0"/></clipPath>
<g clip-path="url(#clipC)">
<line x1="198.9" x2="477.7" y1="668.9" y2="668.9" stroke="#b9b9b9" stroke-width="1"/>
<g fill="rgb(70,70,70)">
<circle cx="374.5" cy="696.2" r="4.2" fill-opacity="0.62"/>
<circle cx="366.1" cy="677.6" r="4.5" fill-opacity="0.62"/>
<circle cx="356.6" cy="676.5" r="4.6" fill-opacity="0.62"/>
<circle cx="355.7" cy="704.3" r="4.0" fill-opacity="0.62"/>
<circle cx="356.8" cy="703.7" r="4.0" fill-opacity="0.62"/>
<circle cx="383.8" cy="688.7" r="4.3" fill-opacity="0.62"/>
<circle cx="383.4" cy="715.0" r="3.8" fill-opacity="0.62"/>
<circle cx="363.8" cy="675.7" r="4.6" fill-opacity="0.62"/>
<circle cx="364.3" cy="682.9" r="4.4" fill-opacity="0.62"/>
<circle cx="362.7" cy="732.7" r="3.3" fill-opacity="0.62"/>
<circle cx="368.2" cy="719.5" r="3.7" fill-opacity="0.62"/>
<circle cx="361.4" cy="676.9" r="4.5" fill-opacity="0.62"/>
<circle cx="359.3" cy="722.6" r="3.6" fill-opacity="0.62"/>
<circle cx="360.7" cy="715.6" r="3.8" fill-opacity="0.62"/>
<circle cx="354.5" cy="731.1" r="3.4" fill-opacity="0.62"/>
<circle cx="380.1" cy="714.8" r="3.8" fill-opacity="0.62"/>
<circle cx="378.7" cy="726.3" r="3.5" fill-opacity="0.62"/>
<circle cx="377.7" cy="680.9" r="4.5" fill-opacity="0.62"/>
<circle cx="356.2" cy="683.5" r="4.4" fill-opacity="0.62"/>
<circle cx="368.2" cy="721.7" r="3.6" fill-opacity="0.62"/>
<circle cx="361.8" cy="737.1" r="3.2" fill-opacity="0.62"/>
<circle cx="365.8" cy="716.2" r="3.7" fill-opacity="0.62"/>
<circle cx="354.3" cy="707.3" r="3.9" fill-opacity="0.62"/>
<circle cx="380.4" cy="724.2" r="3.6" fill-opacity="0.62"/>
<circle cx="357.5" cy="733.1" r="3.3" fill-opacity="0.62"/>
<circle cx="364.5" cy="721.7" r="3.6" fill-opacity="0.62"/>
<circle cx="356.7" cy="684.7" r="4.4" fill-opacity="0.62"/>
<circle cx="355.3" cy="729.1" r="3.4" fill-opacity="0.62"/>
<circle cx="355.7" cy="701.2" r="4.1" fill-opacity="0.62"/>
<circle cx="381.6" cy="705.5" r="4.0" fill-opacity="0.62"/>
<circle cx="365.4" cy="692.8" r="4.2" fill-opacity="0.62"/>
<circle cx="362.0" cy="683.4" r="4.4" fill-opacity="0.62"/>
<circle cx="372.7" cy="689.5" r="4.3" fill-opacity="0.62"/>
<circle cx="367.3" cy="691.7" r="4.3" fill-opacity="0.62"/>
<circle cx="384.2" cy="699.6" r="4.1" fill-opacity="0.62"/>
<circle cx="368.9" cy="723.4" r="3.6" fill-opacity="0.62"/>
<circle cx="378.6" cy="722.3" r="3.6" fill-opacity="0.62"/>
<circle cx="370.7" cy="730.0" r="3.4" fill-opacity="0.62"/>
<circle cx="356.4" cy="701.3" r="4.1" fill-opacity="0.62"/>
<circle cx="352.1" cy="719.2" r="3.7" fill-opacity="0.62"/>
<circle cx="365.1" cy="687.7" r="4.3" fill-opacity="0.62"/>
<circle cx="359.9" cy="676.1" r="4.6" fill-opacity="0.62"/>
<circle cx="356.0" cy="679.7" r="4.5" fill-opacity="0.62"/>
<circle cx="350.7" cy="737.0" r="3.2" fill-opacity="0.62"/>
<circle cx="365.7" cy="690.9" r="4.3" fill-opacity="0.62"/>
<circle cx="384.7" cy="681.3" r="4.5" fill-opacity="0.62"/>
<circle cx="355.2" cy="706.7" r="4.0" fill-opacity="0.62"/>
<circle cx="363.1" cy="679.8" r="4.5" fill-opacity="0.62"/>
<circle cx="348.3" cy="733.6" r="3.3" fill-opacity="0.62"/>
<circle cx="355.9" cy="683.1" r="4.4" fill-opacity="0.62"/>
<circle cx="380.3" cy="711.3" r="3.9" fill-opacity="0.62"/>
<circle cx="360.6" cy="723.8" r="3.6" fill-opacity="0.62"/>
<circle cx="371.0" cy="684.6" r="4.4" fill-opacity="0.62"/>
<circle cx="354.3" cy="729.9" r="3.4" fill-opacity="0.62"/>
<circle cx="353.6" cy="732.8" r="3.3" fill-opacity="0.62"/>
<circle cx="352.6" cy="710.6" r="3.9" fill-opacity="0.62"/>
<circle cx="363.0" cy="674.3" r="4.6" fill-opacity="0.62"/>
<circle cx="363.3" cy="723.5" r="3.6" fill-opacity="0.62"/>
<circle cx="349.8" cy="743.0" r="3.0" fill-opacity="0.62"/>
<circle cx="360.9" cy="689.0" r="4.3" fill-opacity="0.62"/>
<circle cx="378.3" cy="718.4" r="3.7" fill-opacity="0.62"/>
<circle cx="378.6" cy="707.7" r="3.9" fill-opacity="0.62"/>
<circle cx="382.1" cy="678.5" r="4.5" fill-opacity="0.62"/>
<circle cx="361.5" cy="730.2" r="3.4" fill-opacity="0.62"/>
<circle cx="365.0" cy="685.4" r="4.4" fill-opacity="0.62"/>
<circle cx="383.9" cy="701.5" r="4.1" fill-opacity="0.62"/>
<circle cx="352.5" cy="725.9" r="3.5" fill-opacity="0.62"/>
<circle cx="379.2" cy="683.4" r="4.4" fill-opacity="0.62"/>
<circle cx="384.4" cy="683.0" r="4.4" fill-opacity="0.62"/>
<circle cx="367.7" cy="720.9" r="3.6" fill-opacity="0.62"/>
<circle cx="384.1" cy="681.9" r="4.5" fill-opacity="0.62"/>
<circle cx="380.9" cy="720.3" r="3.7" fill-opacity="0.62"/>
<circle cx="379.8" cy="704.3" r="4.0" fill-opacity="0.62"/>
<circle cx="363.7" cy="687.8" r="4.3" fill-opacity="0.62"/>
<circle cx="362.5" cy="690.0" r="4.3" fill-opacity="0.62"/>
<circle cx="382.6" cy="703.2" r="4.0" fill-opacity="0.62"/>
<circle cx="372.2" cy="698.4" r="4.1" fill-opacity="0.62"/>
<circle cx="363.3" cy="739.2" r="3.2" fill-opacity="0.62"/>
<circle cx="369.3" cy="709.4" r="3.9" fill-opacity="0.62"/>
<circle cx="360.8" cy="673.6" r="4.6" fill-opacity="0.62"/>
<circle cx="360.6" cy="672.5" r="4.6" fill-opacity="0.62"/>
<circle cx="370.6" cy="707.3" r="3.9" fill-opacity="0.62"/>
<circle cx="371.4" cy="696.4" r="4.2" fill-opacity="0.62"/>
<circle cx="363.7" cy="730.3" r="3.4" fill-opacity="0.62"/>
<circle cx="378.4" cy="690.6" r="4.3" fill-opacity="0.62"/>
<circle cx="377.1" cy="709.8" r="3.9" fill-opacity="0.62"/>
<circle cx="357.5" cy="739.8" r="3.1" fill-opacity="0.62"/>
<circle cx="374.9" cy="709.7" r="3.9" fill-opacity="0.62"/>
<circle cx="368.2" cy="705.7" r="4.0" fill-opacity="0.62"/>
<circle cx="383.8" cy="691.4" r="4.3" fill-opacity="0.62"/>
<circle cx="350.6" cy="734.4" r="3.3" fill-opacity="0.62"/>
<circle cx="360.5" cy="705.0" r="4.0" fill-opacity="0.62"/>
<circle cx="378.3" cy="677.6" r="4.5" fill-opacity="0.62"/>
<circle cx="360.5" cy="738.7" r="3.2" fill-opacity="0.62"/>
<circle cx="378.7" cy="721.1" r="3.6" fill-opacity="0.62"/>
<circle cx="356.0" cy="743.9" r="3.0" fill-opacity="0.62"/>
<circle cx="385.3" cy="701.7" r="4.1" fill-opacity="0.62"/>
<circle cx="358.3" cy="733.9" r="3.3" fill-opacity="0.62"/>
<circle cx="358.2" cy="710.4" r="3.9" fill-opacity="0.62"/>
<circle cx="354.4" cy="695.8" r="4.2" fill-opacity="0.62"/>
<circle cx="351.7" cy="713.3" r="3.8" fill-opacity="0.62"/>
<circle cx="370.0" cy="696.8" r="4.2" fill-opacity="0.62"/>
<circle cx="356.4" cy="680.0" r="4.5" fill-opacity="0.62"/>
<circle cx="351.6" cy="729.9" r="3.4" fill-opacity="0.62"/>
<circle cx="379.6" cy="703.5" r="4.0" fill-opacity="0.62"/>
<circle cx="383.0" cy="691.4" r="4.3" fill-opacity="0.62"/>
<circle cx="353.9" cy="714.5" r="3.8" fill-opacity="0.62"/>
<circle cx="367.8" cy="676.5" r="4.6" fill-opacity="0.62"/>
<circle cx="352.6" cy="719.2" r="3.7" fill-opacity="0.62"/>
<circle cx="367.1" cy="735.6" r="3.3" fill-opacity="0.62"/>
<circle cx="370.7" cy="705.8" r="4.0" fill-opacity="0.62"/>
<circle cx="349.3" cy="740.9" r="3.1" fill-opacity="0.62"/>
<circle cx="355.2" cy="711.2" r="3.9" fill-opacity="0.62"/>
<circle cx="361.1" cy="684.2" r="4.4" fill-opacity="0.62"/>
<circle cx="378.0" cy="695.3" r="4.2" fill-opacity="0.62"/>
<circle cx="359.6" cy="693.7" r="4.2" fill-opacity="0.62"/>
<circle cx="361.5" cy="697.9" r="4.1" fill-opacity="0.62"/>
<circle cx="371.1" cy="673.3" r="4.6" fill-opacity="0.62"/>
<circle cx="383.3" cy="686.2" r="4.4" fill-opacity="0.62"/>
<circle cx="368.0" cy="680.1" r="4.5" fill-opacity="0.62"/>
<circle cx="365.0" cy="708.9" r="3.9" fill-opacity="0.62"/>
<circle cx="384.5" cy="709.7" r="3.9" fill-opacity="0.62"/>
<circle cx="376.2" cy="697.6" r="4.1" fill-opacity="0.62"/>
<circle cx="361.5" cy="719.3" r="3.7" fill-opacity="0.62"/>
<circle cx="357.6" cy="676.2" r="4.6" fill-opacity="0.62"/>
<circle cx="353.3" cy="727.1" r="3.5" fill-opacity="0.62"/>
<circle cx="380.9" cy="678.5" r="4.5" fill-opacity="0.62"/>
<circle cx="357.2" cy="721.9" r="3.6" fill-opacity="0.62"/>
<circle cx="358.9" cy="693.9" r="4.2" fill-opacity="0.62"/>
<circle cx="384.1" cy="705.2" r="4.0" fill-opacity="0.62"/>
<circle cx="353.8" cy="695.1" r="4.2" fill-opacity="0.62"/>
<circle cx="369.5" cy="700.5" r="4.1" fill-opacity="0.62"/>
<circle cx="354.9" cy="687.1" r="4.4" fill-opacity="0.62"/>
<circle cx="366.7" cy="691.8" r="4.3" fill-opacity="0.62"/>
<circle cx="364.3" cy="675.3" r="4.6" fill-opacity="0.62"/>
<circle cx="370.9" cy="689.5" r="4.3" fill-opacity="0.62"/>
<circle cx="369.8" cy="727.8" r="3.5" fill-opacity="0.62"/>
<circle cx="354.1" cy="737.3" r="3.2" fill-opacity="0.62"/>
<circle cx="352.0" cy="745.2" r="2.9" fill-opacity="0.62"/>
<circle cx="377.8" cy="719.9" r="3.7" fill-opacity="0.62"/>
<circle cx="352.7" cy="726.6" r="3.5" fill-opacity="0.62"/>
<circle cx="379.4" cy="711.0" r="3.9" fill-opacity="0.62"/>
<circle cx="373.5" cy="715.5" r="3.8" fill-opacity="0.62"/>
<circle cx="349.9" cy="723.6" r="3.6" fill-opacity="0.62"/>
<circle cx="358.3" cy="682.1" r="4.5" fill-opacity="0.62"/>
<circle cx="362.9" cy="734.1" r="3.3" fill-opacity="0.62"/>
<circle cx="366.4" cy="718.6" r="3.7" fill-opacity="0.62"/>
<circle cx="376.5" cy="672.4" r="4.6" fill-opacity="0.62"/>
<circle cx="373.8" cy="709.5" r="3.9" fill-opacity="0.62"/>
<circle cx="362.8" cy="677.1" r="4.5" fill-opacity="0.62"/>
<circle cx="376.7" cy="677.7" r="4.5" fill-opacity="0.62"/>
<circle cx="384.6" cy="687.4" r="4.3" fill-opacity="0.62"/>
<circle cx="367.9" cy="708.8" r="3.9" fill-opacity="0.62"/>
<circle cx="369.1" cy="722.9" r="3.6" fill-opacity="0.62"/>
<circle cx="354.7" cy="719.8" r="3.7" fill-opacity="0.62"/>
<circle cx="363.8" cy="691.0" r="4.3" fill-opacity="0.62"/>
<circle cx="353.0" cy="714.3" r="3.8" fill-opacity="0.62"/>
<circle cx="375.9" cy="692.1" r="4.3" fill-opacity="0.62"/>
<circle cx="366.1" cy="722.3" r="3.6" fill-opacity="0.62"/>
<circle cx="356.3" cy="706.6" r="4.0" fill-opacity="0.62"/>
<circle cx="365.6" cy="738.4" r="3.2" fill-opacity="0.62"/>
<circle cx="353.7" cy="741.6" r="3.1" fill-opacity="0.62"/>
<circle cx="359.4" cy="705.5" r="4.0" fill-opacity="0.62"/>
<circle cx="354.7" cy="742.3" r="3.0" fill-opacity="0.62"/>
<circle cx="383.6" cy="682.7" r="4.4" fill-opacity="0.62"/>
<circle cx="370.3" cy="682.0" r="4.5" fill-opacity="0.62"/>
<circle cx="369.6" cy="689.3" r="4.3" fill-opacity="0.62"/>
<circle cx="369.5" cy="674.0" r="4.6" fill-opacity="0.62"/>
<circle cx="357.2" cy="705.6" r="4.0" fill-opacity="0.62"/>
<circle cx="380.5" cy="697.7" r="4.1" fill-opacity="0.62"/>
<circle cx="379.0" cy="672.3" r="4.6" fill-opacity="0.62"/>
<circle cx="357.8" cy="725.0" r="3.5" fill-opacity="0.62"/>
<circle cx="385.7" cy="699.8" r="4.1" fill-opacity="0.62"/>
<circle cx="364.9" cy="715.9" r="3.8" fill-opacity="0.62"/>
<circle cx="357.3" cy="692.6" r="4.2" fill-opacity="0.62"/>
<circle cx="370.4" cy="734.0" r="3.3" fill-opacity="0.62"/>
<circle cx="370.3" cy="690.7" r="4.3" fill-opacity="0.62"/>
<circle cx="383.9" cy="686.3" r="4.4" fill-opacity="0.62"/>
<circle cx="381.5" cy="718.9" r="3.7" fill-opacity="0.62"/>
<circle cx="352.9" cy="712.9" r="3.8" fill-opacity="0.62"/>
<circle cx="371.6" cy="726.5" r="3.5" fill-opacity="0.62"/>
<circle cx="351.3" cy="720.0" r="3.7" fill-opacity="0.62"/>
<circle cx="354.4" cy="740.9" r="3.1" fill-opacity="0.62"/>
<circle cx="377.3" cy="697.7" r="4.1" fill-opacity="0.62"/>
<circle cx="352.4" cy="744.5" r="3.0" fill-opacity="0.62"/>
<circle cx="366.4" cy="694.5" r="4.2" fill-opacity="0.62"/>
<circle cx="361.2" cy="684.6" r="4.4" fill-opacity="0.62"/>
<circle cx="351.3" cy="739.3" r="3.1" fill-opacity="0.62"/>
<circle cx="358.9" cy="705.5" r="4.0" fill-opacity="0.62"/>
<circle cx="358.0" cy="678.9" r="4.5" fill-opacity="0.62"/>
<circle cx="372.1" cy="689.9" r="4.3" fill-opacity="0.62"/>
<circle cx="370.0" cy="702.8" r="4.0" fill-opacity="0.62"/>
<circle cx="355.2" cy="700.1" r="4.1" fill-opacity="0.62"/>
<circle cx="358.1" cy="692.8" r="4.2" fill-opacity="0.62"/>
<circle cx="380.6" cy="709.5" r="3.9" fill-opacity="0.62"/>
<circle cx="362.3" cy="688.2" r="4.3" fill-opacity="0.62"/>
<circle cx="384.1" cy="701.8" r="4.1" fill-opacity="0.62"/>
<circle cx="375.6" cy="673.8" r="4.6" fill-opacity="0.62"/>
<circle cx="358.2" cy="738.6" r="3.2" fill-opacity="0.62"/>
<circle cx="381.4" cy="672.2" r="4.6" fill-opacity="0.62"/>
<circle cx="348.2" cy="744.2" r="3.0" fill-opacity="0.62"/>
<circle cx="375.5" cy="683.6" r="4.4" fill-opacity="0.62"/>
<circle cx="365.0" cy="720.2" r="3.7" fill-opacity="0.62"/>
<circle cx="377.3" cy="713.1" r="3.8" fill-opacity="0.62"/>
<circle cx="374.5" cy="689.4" r="4.3" fill-opacity="0.62"/>
<circle cx="361.9" cy="694.7" r="4.2" fill-opacity="0.62"/>
<circle cx="353.6" cy="719.3" r="3.7" fill-opacity="0.62"/>
<circle cx="372.4" cy="677.4" r="4.5" fill-opacity="0.62"/>
<circle cx="372.7" cy="701.0" r="4.1" fill-opacity="0.62"/>
<circle cx="368.6" cy="673.0" r="4.6" fill-opacity="0.62"/>
<circle cx="352.2" cy="737.7" r="3.2" fill-opacity="0.62"/>
<circle cx="349.5" cy="724.4" r="3.6" fill-opacity="0.62"/>
<circle cx="365.9" cy="709.1" r="3.9" fill-opacity="0.62"/>
<circle cx="383.2" cy="691.3" r="4.3" fill-opacity="0.62"/>
<circle cx="365.0" cy="689.0" r="4.3" fill-opacity="0.62"/>
<circle cx="359.3" cy="703.4" r="4.0" fill-opacity="0.62"/>
<circle cx="361.6" cy="731.3" r="3.4" fill-opacity="0.62"/>
<circle cx="361.1" cy="695.3" r="4.2" fill-opacity="0.62"/>
<circle cx="363.7" cy="688.6" r="4.3" fill-opacity="0.62"/>
<circle cx="367.5" cy="686.1" r="4.4" fill-opacity="0.62"/>
<circle cx="354.2" cy="721.5" r="3.6" fill-opacity="0.62"/>
<circle cx="384.8" cy="701.4" r="4.1" fill-opacity="0.62"/>
<circle cx="356.9" cy="682.7" r="4.4" fill-opacity="0.62"/>
<circle cx="381.8" cy="701.3" r="4.1" fill-opacity="0.62"/>
<circle cx="350.1" cy="741.2" r="3.1" fill-opacity="0.62"/>
<circle cx="366.4" cy="674.6" r="4.6" fill-opacity="0.62"/>
<circle cx="358.7" cy="699.9" r="4.1" fill-opacity="0.62"/>
<circle cx="365.5" cy="672.4" r="4.6" fill-opacity="0.62"/>
<circle cx="358.0" cy="743.0" r="3.0" fill-opacity="0.62"/>
<circle cx="379.9" cy="687.6" r="4.3" fill-opacity="0.62"/>
<circle cx="349.0" cy="733.1" r="3.3" fill-opacity="0.62"/>
<circle cx="382.6" cy="707.3" r="3.9" fill-opacity="0.62"/>
<circle cx="382.1" cy="686.5" r="4.4" fill-opacity="0.62"/>
<circle cx="378.6" cy="674.4" r="4.6" fill-opacity="0.62"/>
<circle cx="349.1" cy="729.0" r="3.4" fill-opacity="0.62"/>
<circle cx="382.4" cy="691.2" r="4.3" fill-opacity="0.62"/>
<circle cx="384.3" cy="697.3" r="4.2" fill-opacity="0.62"/>
<circle cx="374.2" cy="717.9" r="3.7" fill-opacity="0.62"/>
<circle cx="353.9" cy="695.7" r="4.2" fill-opacity="0.62"/>
<circle cx="367.1" cy="728.2" r="3.5" fill-opacity="0.62"/>
<circle cx="350.4" cy="742.1" r="3.1" fill-opacity="0.62"/>
<circle cx="383.7" cy="707.4" r="3.9" fill-opacity="0.62"/>
<circle cx="367.1" cy="700.8" r="4.1" fill-opacity="0.62"/>
<circle cx="358.1" cy="708.8" r="3.9" fill-opacity="0.62"/>
<circle cx="369.8" cy="731.7" r="3.4" fill-opacity="0.62"/>
<circle cx="357.5" cy="729.5" r="3.4" fill-opacity="0.62"/>
<circle cx="378.7" cy="695.9" r="4.2" fill-opacity="0.62"/>
<circle cx="377.4" cy="678.1" r="4.5" fill-opacity="0.62"/>
<circle cx="355.4" cy="690.5" r="4.3" fill-opacity="0.62"/>
<circle cx="383.9" cy="713.1" r="3.8" fill-opacity="0.62"/>
<circle cx="357.2" cy="691.8" r="4.3" fill-opacity="0.62"/>
<circle cx="366.8" cy="709.1" r="3.9" fill-opacity="0.62"/>
<circle cx="373.7" cy="689.6" r="4.3" fill-opacity="0.62"/>
<circle cx="376.9" cy="722.2" r="3.6" fill-opacity="0.62"/>
<circle cx="377.2" cy="721.4" r="3.6" fill-opacity="0.62"/>
<circle cx="365.8" cy="694.0" r="4.2" fill-opacity="0.62"/>
<circle cx="356.0" cy="726.9" r="3.5" fill-opacity="0.62"/>
<circle cx="381.9" cy="690.4" r="4.3" fill-opacity="0.62"/>
<circle cx="364.0" cy="715.1" r="3.8" fill-opacity="0.62"/>
<circle cx="374.7" cy="689.3" r="4.3" fill-opacity="0.62"/>
<circle cx="349.9" cy="745.6" r="2.9" fill-opacity="0.62"/>
<circle cx="352.2" cy="740.0" r="3.1" fill-opacity="0.62"/>
<circle cx="384.1" cy="681.0" r="4.5" fill-opacity="0.62"/>
<circle cx="363.1" cy="715.4" r="3.8" fill-opacity="0.62"/>
<circle cx="353.2" cy="736.4" r="3.2" fill-opacity="0.62"/>
<circle cx="373.6" cy="680.0" r="4.5" fill-opacity="0.62"/>
<circle cx="359.0" cy="688.3" r="4.3" fill-opacity="0.62"/>
<circle cx="373.1" cy="687.3" r="4.3" fill-opacity="0.62"/>
<circle cx="349.9" cy="720.5" r="3.6" fill-opacity="0.62"/>
<circle cx="359.6" cy="696.4" r="4.2" fill-opacity="0.62"/>
<circle cx="379.1" cy="695.3" r="4.2" fill-opacity="0.62"/>
<circle cx="354.6" cy="712.8" r="3.8" fill-opacity="0.62"/>
<circle cx="373.9" cy="701.5" r="4.1" fill-opacity="0.62"/>
<circle cx="375.8" cy="679.0" r="4.5" fill-opacity="0.62"/>
<circle cx="363.0" cy="702.6" r="4.0" fill-opacity="0.62"/>
<circle cx="353.8" cy="742.8" r="3.0" fill-opacity="0.62"/>
<circle cx="381.3" cy="698.7" r="4.1" fill-opacity="0.62"/>
<circle cx="361.0" cy="686.8" r="4.4" fill-opacity="0.62"/>
<circle cx="366.1" cy="703.6" r="4.0" fill-opacity="0.62"/>
<circle cx="350.8" cy="737.6" r="3.2" fill-opacity="0.62"/>
<circle cx="373.6" cy="673.3" r="4.6" fill-opacity="0.62"/>
<circle cx="357.8" cy="739.6" r="3.1" fill-opacity="0.62"/>
<circle cx="358.0" cy="699.7" r="4.1" fill-opacity="0.62"/>
<circle cx="383.2" cy="693.2" r="4.2" fill-opacity="0.62"/>
<circle cx="379.1" cy="680.3" r="4.5" fill-opacity="0.62"/>
<circle cx="348.5" cy="743.8" r="3.0" fill-opacity="0.62"/>
<circle cx="382.8" cy="708.0" r="3.9" fill-opacity="0.62"/>
<circle cx="373.3" cy="700.9" r="4.1" fill-opacity="0.62"/>
<circle cx="367.4" cy="733.3" r="3.3" fill-opacity="0.62"/>
<circle cx="380.7" cy="688.7" r="4.3" fill-opacity="0.62"/>
<circle cx="353.1" cy="733.6" r="3.3" fill-opacity="0.62"/>
<circle cx="365.5" cy="701.8" r="4.1" fill-opacity="0.62"/>
<circle cx="376.7" cy="681.3" r="4.5" fill-opacity="0.62"/>
<circle cx="357.7" cy="738.7" r="3.2" fill-opacity="0.62"/>
<circle cx="373.2" cy="728.3" r="3.5" fill-opacity="0.62"/>
<circle cx="371.5" cy="680.9" r="4.5" fill-opacity="0.62"/>
<circle cx="364.1" cy="718.7" r="3.7" fill-opacity="0.62"/>
<circle cx="372.7" cy="715.4" r="3.8" fill-opacity="0.62"/>
<circle cx="353.4" cy="705.3" r="4.0" fill-opacity="0.62"/>
<circle cx="358.0" cy="718.1" r="3.7" fill-opacity="0.62"/>
<circle cx="361.7" cy="728.8" r="3.4" fill-opacity="0.62"/>
<circle cx="358.1" cy="685.5" r="4.4" fill-opacity="0.62"/>
<circle cx="357.9" cy="681.7" r="4.5" fill-opacity="0.62"/>
<circle cx="354.0" cy="704.9" r="4.0" fill-opacity="0.62"/>
<circle cx="374.5" cy="719.4" r="3.7" fill-opacity="0.62"/>
<circle cx="349.5" cy="729.8" r="3.4" fill-opacity="0.62"/>
<circle cx="383.5" cy="709.5" r="3.9" fill-opacity="0.62"/>
<circle cx="384.9" cy="682.3" r="4.4" fill-opacity="0.62"/>
<circle cx="354.4" cy="726.4" r="3.5" fill-opacity="0.62"/>
<circle cx="383.0" cy="684.4" r="4.4" fill-opacity="0.62"/>
<circle cx="377.4" cy="677.1" r="4.5" fill-opacity="0.62"/>
<circle cx="363.3" cy="684.0" r="4.4" fill-opacity="0.62"/>
<circle cx="360.7" cy="732.6" r="3.3" fill-opacity="0.62"/>
<circle cx="351.5" cy="740.4" r="3.1" fill-opacity="0.62"/>
<circle cx="353.0" cy="709.7" r="3.9" fill-opacity="0.62"/>
<circle cx="383.3" cy="685.7" r="4.4" fill-opacity="0.62"/>
<circle cx="354.6" cy="722.6" r="3.6" fill-opacity="0.62"/>
<circle cx="362.8" cy="730.4" r="3.4" fill-opacity="0.62"/>
<circle cx="379.2" cy="719.4" r="3.7" fill-opacity="0.62"/>
<circle cx="380.6" cy="713.3" r="3.8" fill-opacity="0.62"/>
<circle cx="376.7" cy="718.9" r="3.7" fill-opacity="0.62"/>
<circle cx="376.4" cy="715.0" r="3.8" fill-opacity="0.62"/>
<circle cx="377.0" cy="705.0" r="4.0" fill-opacity="0.62"/>
<circle cx="362.8" cy="675.8" r="4.6" fill-opacity="0.62"/>
<circle cx="369.5" cy="719.6" r="3.7" fill-opacity="0.62"/>
<circle cx="349.4" cy="721.4" r="3.6" fill-opacity="0.62"/>
<circle cx="373.1" cy="674.7" r="4.6" fill-opacity="0.62"/>
<circle cx="382.0" cy="704.2" r="4.0" fill-opacity="0.62"/>
<circle cx="374.6" cy="682.0" r="4.5" fill-opacity="0.62"/>
<circle cx="365.7" cy="673.9" r="4.6" fill-opacity="0.62"/>
<circle cx="361.9" cy="680.1" r="4.5" fill-opacity="0.62"/>
<circle cx="357.5" cy="715.4" r="3.8" fill-opacity="0.62"/>
<circle cx="354.5" cy="718.4" r="3.7" fill-opacity="0.62"/>
<circle cx="349.4" cy="741.6" r="3.1" fill-opacity="0.62"/>
<circle cx="381.0" cy="679.3" r="4.5" fill-opacity="0.62"/>
<circle cx="355.4" cy="730.2" r="3.4" fill-opacity="0.62"/>
<circle cx="371.4" cy="673.1" r="4.6" fill-opacity="0.62"/>
<circle cx="367.7" cy="698.2" r="4.1" fill-opacity="0.62"/>
<circle cx="355.7" cy="690.6" r="4.3" fill-opacity="0.62"/>
<circle cx="359.4" cy="711.6" r="3.9" fill-opacity="0.62"/>
<circle cx="355.9" cy="676.5" r="4.6" fill-opacity="0.62"/>
<circle cx="355.9" cy="713.0" r="3.8" fill-opacity="0.62"/>
<circle cx="370.3" cy="687.0" r="4.4" fill-opacity="0.62"/>
<circle cx="355.6" cy="719.7" r="3.7" fill-opacity="0.62"/>
<circle cx="355.4" cy="695.1" r="4.2" fill-opacity="0.62"/>
<circle cx="375.1" cy="725.2" r="3.5" fill-opacity="0.62"/>
<circle cx="370.8" cy="727.4" r="3.5" fill-opacity="0.62"/>
<circle cx="356.0" cy="705.7" r="4.0" fill-opacity="0.62"/>
<circle cx="364.9" cy="689.4" r="4.3" fill-opacity="0.62"/>
<circle cx="373.7" cy="727.7" r="3.5" fill-opacity="0.62"/>
<circle cx="366.1" cy="724.9" r="3.5" fill-opacity="0.62"/>
<circle cx="369.8" cy="704.5" r="4.0" fill-opacity="0.62"/>
<circle cx="384.4" cy="691.9" r="4.3" fill-opacity="0.62"/>
<circle cx="355.1" cy="688.3" r="4.3" fill-opacity="0.62"/>
<circle cx="377.5" cy="691.5" r="4.3" fill-opacity="0.62"/>
<circle cx="364.2" cy="696.4" r="4.2" fill-opacity="0.62"/>
<circle cx="374.0" cy="689.9" r="4.3" fill-opacity="0.62"/>
<circle cx="380.4" cy="723.5" r="3.6" fill-opacity="0.62"/>
<circle cx="375.3" cy="707.0" r="4.0" fill-opacity="0.62"/>
<circle cx="363.9" cy="735.7" r="3.3" fill-opacity="0.62"/>
<circle cx="358.0" cy="714.5" r="3.8" fill-opacity="0.62"/>
<circle cx="380.6" cy="718.3" r="3.7" fill-opacity="0.62"/>
<circle cx="358.3" cy="682.9" r="4.4" fill-opacity="0.62"/>
<circle cx="349.5" cy="741.0" r="3.1" fill-opacity="0.62"/>
<circle cx="375.2" cy="674.3" r="4.6" fill-opacity="0.62"/>
<circle cx="374.6" cy="719.2" r="3.7" fill-opacity="0.62"/>
<circle cx="366.0" cy="677.1" r="4.5" fill-opacity="0.62"/>
<circle cx="363.8" cy="738.2" r="3.2" fill-opacity="0.62"/>
<circle cx="358.6" cy="680.1" r="4.5" fill-opacity="0.62"/>
<circle cx="378.7" cy="674.8" r="4.6" fill-opacity="0.62"/>
<circle cx="371.1" cy="719.2" r="3.7" fill-opacity="0.62"/>
<circle cx="357.1" cy="693.5" r="4.2" fill-opacity="0.62"/>
<circle cx="357.7" cy="728.3" r="3.5" fill-opacity="0.62"/>
<circle cx="361.2" cy="703.6" r="4.0" fill-opacity="0.62"/>
<circle cx="365.7" cy="693.1" r="4.2" fill-opacity="0.62"/>
<circle cx="369.8" cy="696.0" r="4.2" fill-opacity="0.62"/>
<circle cx="348.4" cy="735.3" r="3.3" fill-opacity="0.62"/>
<circle cx="378.1" cy="702.8" r="4.0" fill-opacity="0.62"/>
<circle cx="370.8" cy="697.9" r="4.1" fill-opacity="0.62"/>
<circle cx="357.4" cy="688.2" r="4.3" fill-opacity="0.62"/>
<circle cx="347.8" cy="732.9" r="3.3" fill-opacity="0.62"/>
<circle cx="384.6" cy="687.2" r="4.4" fill-opacity="0.62"/>
<circle cx="369.4" cy="672.5" r="4.6" fill-opacity="0.62"/>
<circle cx="361.3" cy="731.2" r="3.4" fill-opacity="0.62"/>
<circle cx="361.9" cy="697.9" r="4.1" fill-opacity="0.62"/>
<circle cx="350.1" cy="742.1" r="3.1" fill-opacity="0.62"/>
<circle cx="352.4" cy="724.0" r="3.6" fill-opacity="0.62"/>
<circle cx="376.3" cy="719.4" r="3.7" fill-opacity="0.62"/>
<circle cx="369.0" cy="723.9" r="3.6" fill-opacity="0.62"/>
<circle cx="366.1" cy="698.6" r="4.1" fill-opacity="0.62"/>
<circle cx="364.3" cy="738.2" r="3.2" fill-opacity="0.62"/>
<circle cx="363.1" cy="674.1" r="4.6" fill-opacity="0.62"/>
<circle cx="354.2" cy="739.0" r="3.2" fill-opacity="0.62"/>
<circle cx="356.6" cy="737.7" r="3.2" fill-opacity="0.62"/>
<circle cx="376.6" cy="711.6" r="3.9" fill-opacity="0.62"/>
<circle cx="360.6" cy="720.1" r="3.7" fill-opacity="0.62"/>
<circle cx="374.9" cy="683.7" r="4.4" fill-opacity="0.62"/>
<circle cx="361.7" cy="727.2" r="3.5" fill-opacity="0.62"/>
<circle cx="351.6" cy="729.5" r="3.4" fill-opacity="0.62"/>
<circle cx="360.2" cy="706.4" r="4.0" fill-opacity="0.62"/>
<circle cx="376.2" cy="686.4" r="4.4" fill-opacity="0.62"/>
<circle cx="351.4" cy="734.7" r="3.3" fill-opacity="0.62"/>
<circle cx="370.6" cy="690.5" r="4.3" fill-opacity="0.62"/>
<circle cx="360.7" cy="684.1" r="4.4" fill-opacity="0.62"/>
<circle cx="384.3" cy="679.7" r="4.5" fill-opacity="0.62"/>
<circle cx="359.8" cy="731.1" r="3.4" fill-opacity="0.62"/>
<circle cx="358.1" cy="686.7" r="4.4" fill-opacity="0.62"/>
<circle cx="355.8" cy="687.5" r="4.3" fill-opacity="0.62"/>
<circle cx="375.6" cy="701.8" r="4.1" fill-opacity="0.62"/>
<circle cx="367.3" cy="709.3" r="3.9" fill-opacity="0.62"/>
<circle cx="367.2" cy="682.7" r="4.4" fill-opacity="0.62"/>
<circle cx="361.4" cy="727.1" r="3.5" fill-opacity="0.62"/>
<circle cx="364.9" cy="714.7" r="3.8" fill-opacity="0.62"/>
<circle cx="381.7" cy="689.1" r="4.3" fill-opacity="0.62"/>
<circle cx="372.7" cy="729.6" r="3.4" fill-opacity="0.62"/>
<circle cx="363.9" cy="722.6" r="3.6" fill-opacity="0.62"/>
<circle cx="356.9" cy="695.4" r="4.2" fill-opacity="0.62"/>
<circle cx="376.1" cy="703.3" r="4.0" fill-opacity="0.62"/>
<circle cx="364.2" cy="718.9" r="3.7" fill-opacity="0.62"/>
<circle cx="366.0" cy="705.9" r="4.0" fill-opacity="0.62"/>
<circle cx="355.2" cy="722.2" r="3.6" fill-opacity="0.62"/>
<circle cx="362.5" cy="720.7" r="3.6" fill-opacity="0.62"/>
<circle cx="353.3" cy="708.5" r="3.9" fill-opacity="0.62"/>
<circle cx="377.4" cy="712.5" r="3.8" fill-opacity="0.62"/>
<circle cx="371.2" cy="679.7" r="4.5" fill-opacity="0.62"/>
<circle cx="368.6" cy="725.4" r="3.5" fill-opacity="0.62"/>
<circle cx="357.9" cy="733.6" r="3.3" fill-opacity="0.62"/>
<circle cx="355.7" cy="742.4" r="3.0" fill-opacity="0.62"/>
<circle cx="357.1" cy="701.3" r="4.1" fill-opacity="0.62"/>
<circle cx="367.0" cy="676.4" r="4.6" fill-opacity="0.62"/>
<circle cx="367.5" cy="673.2" r="4.6" fill-opacity="0.62"/>
<circle cx="357.3" cy="723.9" r="3.6" fill-opacity="0.62"/>
<circle cx="383.6" cy="688.8" r="4.3" fill-opacity="0.62"/>
<circle cx="378.3" cy="711.3" r="3.9" fill-opacity="0.62"/>
<circle cx="357.3" cy="701.2" r="4.1" fill-opacity="0.62"/>
<circle cx="366.2" cy="729.7" r="3.4" fill-opacity="0.62"/>
<circle cx="359.8" cy="707.0" r="4.0" fill-opacity="0.62"/>
<circle cx="377.2" cy="719.5" r="3.7" fill-opacity="0.62"/>
<circle cx="370.4" cy="706.9" r="4.0" fill-opacity="0.62"/>
<circle cx="365.7" cy="681.5" r="4.5" fill-opacity="0.62"/>
<circle cx="356.3" cy="735.2" r="3.3" fill-opacity="0.62"/>
<circle cx="360.1" cy="691.0" r="4.3" fill-opacity="0.62"/>
<circle cx="363.6" cy="672.4" r="4.6" fill-opacity="0.62"/>
<circle cx="369.3" cy="690.4" r="4.3" fill-opacity="0.62"/>
<circle cx="374.3" cy="704.0" r="4.0" fill-opacity="0.62"/>
<circle cx="381.0" cy="699.1" r="4.1" fill-opacity="0.62"/>
<circle cx="381.6" cy="676.4" r="4.6" fill-opacity="0.62"/>
<circle cx="371.4" cy="730.3" r="3.4" fill-opacity="0.62"/>
<circle cx="350.2" cy="719.1" r="3.7" fill-opacity="0.62"/>
<circle cx="358.8" cy="690.7" r="4.3" fill-opacity="0.62"/>
<circle cx="365.2" cy="689.5" r="4.3" fill-opacity="0.62"/>
<circle cx="378.8" cy="683.5" r="4.4" fill-opacity="0.62"/>
<circle cx="373.3" cy="684.6" r="4.4" fill-opacity="0.62"/>
<circle cx="373.3" cy="730.1" r="3.4" fill-opacity="0.62"/>
<circle cx="353.4" cy="730.6" r="3.4" fill-opacity="0.62"/>
<circle cx="372.8" cy="723.5" r="3.6" fill-opacity="0.62"/>
<circle cx="370.8" cy="704.7" r="4.0" fill-opacity="0.62"/>
<circle cx="358.6" cy="691.8" r="4.3" fill-opacity="0.62"/>
<circle cx="367.5" cy="708.7" r="3.9" fill-opacity="0.62"/>
<circle cx="370.0" cy="682.9" r="4.4" fill-opacity="0.62"/>
<circle cx="351.6" cy="712.2" r="3.8" fill-opacity="0.62"/>
<circle cx="361.1" cy="734.5" r="3.3" fill-opacity="0.62"/>
<circle cx="361.7" cy="721.5" r="3.6" fill-opacity="0.62"/>
<circle cx="355.3" cy="703.2" r="4.0" fill-opacity="0.62"/>
<circle cx="350.7" cy="719.4" r="3.7" fill-opacity="0.62"/>
<circle cx="381.5" cy="717.4" r="3.7" fill-opacity="0.62"/>
<circle cx="370.0" cy="696.7" r="4.2" fill-opacity="0.62"/>
<circle cx="353.2" cy="708.1" r="3.9" fill-opacity="0.62"/>
<circle cx="359.2" cy="725.4" r="3.5" fill-opacity="0.62"/>
<circle cx="358.1" cy="736.1" r="3.2" fill-opacity="0.62"/>
<circle cx="358.6" cy="711.1" r="3.9" fill-opacity="0.62"/>
<circle cx="370.8" cy="704.4" r="4.0" fill-opacity="0.62"/>
<circle cx="368.3" cy="733.5" r="3.3" fill-opacity="0.62"/>
<circle cx="361.8" cy="702.1" r="4.1" fill-opacity="0.62"/>
<circle cx="373.6" cy="709.7" r="3.9" fill-opacity="0.62"/>
<circle cx="356.6" cy="730.9" r="3.4" fill-opacity="0.62"/>
<circle cx="374.0" cy="694.4" r="4.2" fill-opacity="0.62"/>
<circle cx="368.3" cy="730.3" r="3.4" fill-opacity="0.62"/>
<circle cx="348.5" cy="737.8" r="3.2" fill-opacity="0.62"/>
<circle cx="359.9" cy="694.5" r="4.2" fill-opacity="0.62"/>
<circle cx="379.7" cy="721.0" r="3.6" fill-opacity="0.62"/>
<circle cx="371.2" cy="717.5" r="3.7" fill-opacity="0.62"/>
<circle cx="370.7" cy="723.8" r="3.6" fill-opacity="0.62"/>
<circle cx="368.7" cy="687.9" r="4.3" fill-opacity="0.62"/>
<circle cx="353.5" cy="728.7" r="3.4" fill-opacity="0.62"/>
<circle cx="381.6" cy="674.9" r="4.6" fill-opacity="0.62"/>
<circle cx="376.9" cy="720.8" r="3.6" fill-opacity="0.62"/>
<circle cx="355.1" cy="730.5" r="3.4" fill-opacity="0.62"/>
<circle cx="364.0" cy="694.6" r="4.2" fill-opacity="0.62"/>
<circle cx="383.3" cy="704.1" r="4.0" fill-opacity="0.62"/>
<circle cx="356.7" cy="676.2" r="4.6" fill-opacity="0.62"/>
<circle cx="372.3" cy="681.0" r="4.5" fill-opacity="0.62"/>
<circle cx="347.7" cy="740.3" r="3.1" fill-opacity="0.62"/>
<circle cx="383.6" cy="700.9" r="4.1" fill-opacity="0.62"/>
<circle cx="373.9" cy="702.8" r="4.0" fill-opacity="0.62"/>
<circle cx="355.2" cy="687.9" r="4.3" fill-opacity="0.62"/>
<circle cx="359.1" cy="672.6" r="4.6" fill-opacity="0.62"/>
<circle cx="355.5" cy="743.8" r="3.0" fill-opacity="0.62"/>
<circle cx="376.6" cy="681.8" r="4.5" fill-opacity="0.62"/>
<circle cx="360.2" cy="690.2" r="4.3" fill-opacity="0.62"/>
<circle cx="376.0" cy="675.9" r="4.6" fill-opacity="0.62"/>
<circle cx="376.2" cy="678.4" r="4.5" fill-opacity="0.62"/>
<circle cx="360.8" cy="706.3" r="4.0" fill-opacity="0.62"/>
<circle cx="373.9" cy="673.0" r="4.6" fill-opacity="0.62"/>
<circle cx="355.7" cy="732.8" r="3.3" fill-opacity="0.62"/>
<circle cx="375.0" cy="726.3" r="3.5" fill-opacity="0.62"/>
<circle cx="364.3" cy="708.2" r="3.9" fill-opacity="0.62"/>
<circle cx="373.5" cy="714.8" r="3.8" fill-opacity="0.62"/>
<circle cx="365.9" cy="682.9" r="4.4" fill-opacity="0.62"/>
<circle cx="363.7" cy="720.0" r="3.7" fill-opacity="0.62"/>
<circle cx="383.9" cy="700.8" r="4.1" fill-opacity="0.62"/>
<circle cx="356.1" cy="730.3" r="3.4" fill-opacity="0.62"/>
<circle cx="359.4" cy="724.3" r="3.6" fill-opacity="0.62"/>
<circle cx="378.2" cy="717.1" r="3.7" fill-opacity="0.62"/>
<circle cx="364.8" cy="716.7" r="3.7" fill-opacity="0.62"/>
<circle cx="360.6" cy="738.0" r="3.2" fill-opacity="0.62"/>
<circle cx="377.5" cy="716.8" r="3.7" fill-opacity="0.62"/>
<circle cx="362.3" cy="693.2" r="4.2" fill-opacity="0.62"/>
<circle cx="379.5" cy="703.5" r="4.0" fill-opacity="0.62"/>
<circle cx="363.5" cy="738.0" r="3.2" fill-opacity="0.62"/>
<circle cx="379.3" cy="714.6" r="3.8" fill-opacity="0.62"/>
<circle cx="371.9" cy="732.0" r="3.4" fill-opacity="0.62"/>
<circle cx="371.3" cy="697.9" r="4.1" fill-opacity="0.62"/>
<circle cx="368.2" cy="731.3" r="3.4" fill-opacity="0.62"/>
<circle cx="356.0" cy="741.2" r="3.1" fill-opacity="0.62"/>
<circle cx="355.9" cy="722.4" r="3.6" fill-opacity="0.62"/>
<circle cx="379.0" cy="691.1" r="4.3" fill-opacity="0.62"/>
<circle cx="379.0" cy="706.3" r="4.0" fill-opacity="0.62"/>
<circle cx="364.9" cy="729.4" r="3.4" fill-opacity="0.62"/>
<circle cx="371.3" cy="710.9" r="3.9" fill-opacity="0.62"/>
<circle cx="360.3" cy="686.2" r="4.4" fill-opacity="0.62"/>
<circle cx="366.8" cy="724.1" r="3.6" fill-opacity="0.62"/>
<circle cx="357.8" cy="702.0" r="4.1" fill-opacity="0.62"/>
<circle cx="373.8" cy="699.9" r="4.1" fill-opacity="0.62"/>
<circle cx="364.6" cy="730.5" r="3.4" fill-opacity="0.62"/>
<circle cx="354.2" cy="697.8" r="4.1" fill-opacity="0.62"/>
<circle cx="359.8" cy="736.4" r="3.2" fill-opacity="0.62"/>
<circle cx="367.6" cy="691.6" r="4.3" fill-opacity="0.62"/>
<circle cx="360.6" cy="691.0" r="4.3" fill-opacity="0.62"/>
<circle cx="356.4" cy="685.6" r="4.4" fill-opacity="0.62"/>
<circle cx="366.4" cy="713.5" r="3.8" fill-opacity="0.62"/>
<circle cx="367.0" cy="677.0" r="4.5" fill-opacity="0.62"/>
<circle cx="374.3" cy="691.3" r="4.3" fill-opacity="0.62"/>
<circle cx="358.3" cy="701.3" r="4.1" fill-opacity="0.62"/>
<circle cx="362.5" cy="688.6" r="4.3" fill-opacity="0.62"/>
<circle cx="382.6" cy="698.3" r="4.1" fill-opacity="0.62"/>
<circle cx="366.6" cy="734.2" r="3.3" fill-opacity="0.62"/>
<circle cx="379.8" cy="724.8" r="3.5" fill-opacity="0.62"/>
<circle cx="377.3" cy="676.3" r="4.6" fill-opacity="0.62"/>
<circle cx="377.9" cy="694.3" r="4.2" fill-opacity="0.62"/>
<circle cx="362.9" cy="680.0" r="4.5" fill-opacity="0.62"/>
<circle cx="360.2" cy="681.4" r="4.5" fill-opacity="0.62"/>
<circle cx="375.5" cy="689.9" r="4.3" fill-opacity="0.62"/>
<circle cx="361.2" cy="673.1" r="4.6" fill-opacity="0.62"/>
<circle cx="381.3" cy="688.5" r="4.3" fill-opacity="0.62"/>
<circle cx="356.1" cy="738.1" r="3.2" fill-opacity="0.62"/>
<circle cx="358.4" cy="734.6" r="3.3" fill-opacity="0.62"/>
<circle cx="368.9" cy="697.4" r="4.2" fill-opacity="0.62"/>
<circle cx="357.4" cy="718.7" r="3.7" fill-opacity="0.62"/>
<circle cx="371.5" cy="676.4" r="4.6" fill-opacity="0.62"/>
<circle cx="363.0" cy="682.9" r="4.4" fill-opacity="0.62"/>
<circle cx="361.7" cy="702.7" r="4.0" fill-opacity="0.62"/>
<circle cx="351.7" cy="734.4" r="3.3" fill-opacity="0.62"/>
<circle cx="382.0" cy="708.6" r="3.9" fill-opacity="0.62"/>
<circle cx="365.0" cy="721.7" r="3.6" fill-opacity="0.62"/>
<circle cx="360.4" cy="693.4" r="4.2" fill-opacity="0.62"/>
<circle cx="385.6" cy="699.2" r="4.1" fill-opacity="0.62"/>
<circle cx="351.8" cy="740.7" r="3.1" fill-opacity="0.62"/>
<circle cx="360.7" cy="738.6" r="3.2" fill-opacity="0.62"/>
<circle cx="365.3" cy="673.4" r="4.6" fill-opacity="0.62"/>
<circle cx="380.0" cy="682.6" r="4.4" fill-opacity="0.62"/>
<circle cx="366.0" cy="711.2" r="3.9" fill-opacity="0.62"/>
<circle cx="356.9" cy="739.8" r="3.1" fill-opacity="0.62"/>
<circle cx="378.1" cy="682.4" r="4.4" fill-opacity="0.62"/>
<circle cx="351.2" cy="724.9" r="3.5" fill-opacity="0.62"/>
<circle cx="369.9" cy="678.7" r="4.5" fill-opacity="0.62"/>
<circle cx="373.4" cy="692.5" r="4.2" fill-opacity="0.62"/>
<circle cx="367.2" cy="724.6" r="3.5" fill-opacity="0.62"/>
<circle cx="377.1" cy="687.2" r="4.4" fill-opacity="0.62"/>
<circle cx="354.7" cy="702.4" r="4.0" fill-opacity="0.62"/>
<circle cx="369.8" cy="732.3" r="3.4" fill-opacity="0.62"/>
<circle cx="348.0" cy="736.3" r="3.2" fill-opacity="0.62"/>
<circle cx="362.0" cy="739.6" r="3.1" fill-opacity="0.62"/>
<circle cx="380.3" cy="691.9" r="4.3" fill-opacity="0.62"/>
<circle cx="365.3" cy="699.4" r="4.1" fill-opacity="0.62"/>
<circle cx="367.9" cy="716.3" r="3.7" fill-opacity="0.62"/>
<circle cx="356.6" cy="705.2" r="4.0" fill-opacity="0.62"/>
<circle cx="375.8" cy="725.2" r="3.5" fill-opacity="0.62"/>
<circle cx="365.9" cy="696.0" r="4.2" fill-opacity="0.62"/>
<circle cx="374.5" cy="727.9" r="3.5" fill-opacity="0.62"/>
<circle cx="369.6" cy="710.2" r="3.9" fill-opacity="0.62"/>
<circle cx="357.8" cy="688.8" r="4.3" fill-opacity="0.62"/>
<circle cx="355.3" cy="690.8" r="4.3" fill-opacity="0.62"/>
<circle cx="361.1" cy="679.3" r="4.5" fill-opacity="0.62"/>
<circle cx="371.9" cy="673.5" r="4.6" fill-opacity="0.62"/>
<circle cx="355.0" cy="710.9" r="3.9" fill-opacity="0.62"/>
<circle cx="369.7" cy="675.5" r="4.6" fill-opacity="0.62"/>
<circle cx="355.9" cy="709.3" r="3.9" fill-opacity="0.62"/>
<circle cx="372.3" cy="702.3" r="4.1" fill-opacity="0.62"/>
<circle cx="360.3" cy="736.0" r="3.2" fill-opacity="0.62"/>
<circle cx="373.3" cy="727.5" r="3.5" fill-opacity="0.62"/>
<circle cx="353.1" cy="741.7" r="3.1" fill-opacity="0.62"/>
<circle cx="357.1" cy="734.4" r="3.3" fill-opacity="0.62"/>
<circle cx="364.3" cy="697.3" r="4.2" fill-opacity="0.62"/>
<circle cx="379.0" cy="704.5" r="4.0" fill-opacity="0.62"/>
<circle cx="359.7" cy="735.0" r="3.3" fill-opacity="0.62"/>
<circle cx="374.1" cy="690.7" r="4.3" fill-opacity="0.62"/>
<circle cx="355.6" cy="699.2" r="4.1" fill-opacity="0.62"/>
<circle cx="353.4" cy="704.3" r="4.0" fill-opacity="0.62"/>
<circle cx="379.6" cy="719.1" r="3.7" fill-opacity="0.62"/>
<circle cx="360.1" cy="737.8" r="3.2" fill-opacity="0.62"/>
<circle cx="362.8" cy="691.9" r="4.3" fill-opacity="0.62"/>
<circle cx="372.0" cy="712.4" r="3.8" fill-opacity="0.62"/>
<circle cx="367.9" cy="690.8" r="4.3" fill-opacity="0.62"/>
<circle cx="350.9" cy="742.7" r="3.0" fill-opacity="0.62"/>
<circle cx="369.6" cy="720.2" r="3.7" fill-opacity="0.62"/>
<circle cx="370.9" cy="692.1" r="4.3" fill-opacity="0.62"/>
<circle cx="359.0" cy="683.2" r="4.4" fill-opacity="0.62"/>
<circle cx="363.1" cy="694.0" r="4.2" fill-opacity="0.62"/>
<circle cx="371.4" cy="690.2" r="4.3" fill-opacity="0.62"/>
<circle cx="361.3" cy="734.4" r="3.3" fill-opacity="0.62"/>
<circle cx="373.4" cy="720.4" r="3.7" fill-opacity="0.62"/>
<circle cx="372.6" cy="706.4" r="4.0" fill-opacity="0.62"/>
<circle cx="360.3" cy="707.0" r="4.0" fill-opacity="0.62"/>
<circle cx="366.4" cy="688.6" r="4.3" fill-opacity="0.62"/>
<circle cx="362.4" cy="715.6" r="3.8" fill-opacity="0.62"/>
<circle cx="359.9" cy="736.1" r="3.2" fill-opacity="0.62"/>
<circle cx="384.8" cy="708.6" r="3.9" fill-opacity="0.62"/>
<circle cx="359.0" cy="694.1" r="4.2" fill-opacity="0.62"/>
<circle cx="368.2" cy="677.1" r="4.5" fill-opacity="0.62"/>
<circle cx="368.2" cy="676.8" r="4.5" fill-opacity="0.62"/>
<circle cx="355.3" cy="726.7" r="3.5" fill-opacity="0.62"/>
<circle cx="365.6" cy="683.7" r="4.4" fill-opacity="0.62"/>
<circle cx="377.0" cy="722.2" r="3.6" fill-opacity="0.62"/>
<circle cx="366.4" cy="733.1" r="3.3" fill-opacity="0.62"/>
<circle cx="362.8" cy="727.3" r="3.5" fill-opacity="0.62"/>
<circle cx="373.6" cy="730.4" r="3.4" fill-opacity="0.62"/>
<circle cx="355.3" cy="681.6" r="4.5" fill-opacity="0.62"/>
<circle cx="362.8" cy="728.9" r="3.4" fill-opacity="0.62"/>
<circle cx="381.4" cy="703.2" r="4.0" fill-opacity="0.62"/>
<circle cx="365.5" cy="717.2" r="3.7" fill-opacity="0.62"/>
<circle cx="362.1" cy="706.1" r="4.0" fill-opacity="0.62"/>
<circle cx="365.6" cy="701.1" r="4.1" fill-opacity="0.62"/>
<circle cx="380.8" cy="696.1" r="4.2" fill-opacity="0.62"/>
<circle cx="358.0" cy="709.2" r="3.9" fill-opacity="0.62"/>
<circle cx="372.1" cy="694.7" r="4.2" fill-opacity="0.62"/>
<circle cx="381.5" cy="715.3" r="3.8" fill-opacity="0.62"/>
<circle cx="380.5" cy="696.2" r="4.2" fill-opacity="0.62"/>
<circle cx="351.8" cy="743.2" r="3.0" fill-opacity="0.62"/>
<circle cx="348.3" cy="739.7" r="3.1" fill-opacity="0.62"/>
<circle cx="381.7" cy="714.1" r="3.8" fill-opacity="0.62"/>
<circle cx="376.9" cy="729.5" r="3.4" fill-opacity="0.62"/>
<circle cx="374.5" cy="710.5" r="3.9" fill-opacity="0.62"/>
<circle cx="372.5" cy="701.1" r="4.1" fill-opacity="0.62"/>
<circle cx="375.2" cy="698.2" r="4.1" fill-opacity="0.62"/>
<circle cx="364.0" cy="711.1" r="3.9" fill-opacity="0.62"/>
<circle cx="371.7" cy="701.9" r="4.1" fill-opacity="0.62"/>
<circle cx="372.8" cy="708.3" r="3.9" fill-opacity="0.62"/>
<circle cx="357.2" cy="711.5" r="3.9" fill-opacity="0.62"/>
<circle cx="380.1" cy="695.8" r="4.2" fill-opacity="0.62"/>
<circle cx="339.9" cy="711.0" r="3.9" fill-opacity="0.62"/>
<circle cx="322.9" cy="704.3" r="4.0" fill-opacity="0.62"/>
<circle cx="321.5" cy="710.9" r="3.9" fill-opacity="0.62"/>
<circle cx="330.2" cy="687.0" r="4.4" fill-opacity="0.62"/>
<circle cx="331.7" cy="719.9" r="3.7" fill-opacity="0.62"/>
<circle cx="340.4" cy="730.9" r="3.4" fill-opacity="0.62"/>
<circle cx="335.5" cy="674.1" r="4.6" fill-opacity="0.62"/>
<circle cx="324.2" cy="716.3" r="3.7" fill-opacity="0.62"/>
<circle cx="323.6" cy="709.9" r="3.9" fill-opacity="0.62"/>
<circle cx="344.6" cy="720.7" r="3.6" fill-opacity="0.62"/>
<circle cx="321.4" cy="715.4" r="3.8" fill-opacity="0.62"/>
<circle cx="317.6" cy="685.2" r="4.4" fill-opacity="0.62"/>
<circle cx="328.9" cy="681.1" r="4.5" fill-opacity="0.62"/>
<circle cx="342.9" cy="733.5" r="3.3" fill-opacity="0.62"/>
<circle cx="334.1" cy="678.3" r="4.5" fill-opacity="0.62"/>
<circle cx="323.8" cy="697.2" r="4.2" fill-opacity="0.62"/>
<circle cx="317.1" cy="686.1" r="4.4" fill-opacity="0.62"/>
<circle cx="335.5" cy="739.3" r="3.1" fill-opacity="0.62"/>
<circle cx="315.5" cy="706.4" r="4.0" fill-opacity="0.62"/>
<circle cx="346.0" cy="738.4" r="3.2" fill-opacity="0.62"/>
<circle cx="322.0" cy="705.7" r="4.0" fill-opacity="0.62"/>
<circle cx="344.8" cy="735.8" r="3.3" fill-opacity="0.62"/>
<circle cx="338.9" cy="733.0" r="3.3" fill-opacity="0.62"/>
<circle cx="339.2" cy="742.7" r="3.0" fill-opacity="0.62"/>
<circle cx="331.3" cy="725.9" r="3.5" fill-opacity="0.62"/>
<circle cx="343.1" cy="737.3" r="3.2" fill-opacity="0.62"/>
<circle cx="324.1" cy="691.4" r="4.3" fill-opacity="0.62"/>
<circle cx="316.5" cy="694.9" r="4.2" fill-opacity="0.62"/>
<circle cx="328.2" cy="712.5" r="3.8" fill-opacity="0.62"/>
<circle cx="335.2" cy="678.5" r="4.5" fill-opacity="0.62"/>
<circle cx="318.8" cy="699.3" r="4.1" fill-opacity="0.62"/>
<circle cx="313.5" cy="694.4" r="4.2" fill-opacity="0.62"/>
<circle cx="326.3" cy="722.0" r="3.6" fill-opacity="0.62"/>
<circle cx="330.2" cy="725.0" r="3.5" fill-opacity="0.62"/>
<circle cx="336.0" cy="734.3" r="3.3" fill-opacity="0.62"/>
<circle cx="333.0" cy="685.3" r="4.4" fill-opacity="0.62"/>
<circle cx="319.6" cy="701.1" r="4.1" fill-opacity="0.62"/>
<circle cx="317.4" cy="690.3" r="4.3" fill-opacity="0.62"/>
<circle cx="343.6" cy="725.0" r="3.5" fill-opacity="0.62"/>
<circle cx="325.7" cy="716.4" r="3.7" fill-opacity="0.62"/>
<circle cx="341.3" cy="717.9" r="3.7" fill-opacity="0.62"/>
<circle cx="329.2" cy="682.7" r="4.4" fill-opacity="0.62"/>
<circle cx="324.7" cy="693.4" r="4.2" fill-opacity="0.62"/>
<circle cx="330.0" cy="721.5" r="3.6" fill-opacity="0.62"/>
<circle cx="318.8" cy="702.1" r="4.1" fill-opacity="0.62"/>
<circle cx="340.5" cy="735.5" r="3.3" fill-opacity="0.62"/>
<circle cx="325.2" cy="681.7" r="4.5" fill-opacity="0.62"/>
<circle cx="317.1" cy="710.1" r="3.9" fill-opacity="0.62"/>
<circle cx="316.8" cy="696.4" r="4.2" fill-opacity="0.62"/>
<circle cx="333.4" cy="725.8" r="3.5" fill-opacity="0.62"/>
<circle cx="315.4" cy="683.4" r="4.4" fill-opacity="0.62"/>
<circle cx="331.8" cy="723.1" r="3.6" fill-opacity="0.62"/>
<circle cx="333.8" cy="703.7" r="4.0" fill-opacity="0.62"/>
<circle cx="323.9" cy="691.8" r="4.3" fill-opacity="0.62"/>
<circle cx="323.5" cy="719.4" r="3.7" fill-opacity="0.62"/>
<circle cx="323.8" cy="725.5" r="3.5" fill-opacity="0.62"/>
<circle cx="323.1" cy="685.5" r="4.4" fill-opacity="0.62"/>
<circle cx="322.8" cy="701.4" r="4.1" fill-opacity="0.62"/>
<circle cx="341.3" cy="720.1" r="3.7" fill-opacity="0.62"/>
<circle cx="325.2" cy="715.1" r="3.8" fill-opacity="0.62"/>
<circle cx="324.8" cy="705.3" r="4.0" fill-opacity="0.62"/>
<circle cx="324.8" cy="730.1" r="3.4" fill-opacity="0.62"/>
<circle cx="327.0" cy="735.7" r="3.3" fill-opacity="0.62"/>
<circle cx="334.8" cy="691.5" r="4.3" fill-opacity="0.62"/>
<circle cx="340.1" cy="728.1" r="3.5" fill-opacity="0.62"/>
<circle cx="336.8" cy="702.3" r="4.0" fill-opacity="0.62"/>
<circle cx="338.6" cy="694.2" r="4.2" fill-opacity="0.62"/>
<circle cx="333.7" cy="704.5" r="4.0" fill-opacity="0.62"/>
<circle cx="321.5" cy="719.3" r="3.7" fill-opacity="0.62"/>
<circle cx="335.6" cy="724.4" r="3.6" fill-opacity="0.62"/>
<circle cx="343.1" cy="741.1" r="3.1" fill-opacity="0.62"/>
<circle cx="334.8" cy="677.0" r="4.5" fill-opacity="0.62"/>
<circle cx="339.0" cy="692.7" r="4.2" fill-opacity="0.62"/>
<circle cx="327.7" cy="720.0" r="3.7" fill-opacity="0.62"/>
<circle cx="326.9" cy="678.1" r="4.5" fill-opacity="0.62"/>
<circle cx="317.8" cy="688.4" r="4.3" fill-opacity="0.62"/>
<circle cx="329.4" cy="725.1" r="3.5" fill-opacity="0.62"/>
<circle cx="326.4" cy="691.3" r="4.3" fill-opacity="0.62"/>
<circle cx="336.2" cy="741.6" r="3.1" fill-opacity="0.62"/>
<circle cx="339.2" cy="737.9" r="3.2" fill-opacity="0.62"/>
<circle cx="329.2" cy="698.0" r="4.1" fill-opacity="0.62"/>
<circle cx="339.6" cy="728.9" r="3.4" fill-opacity="0.62"/>
<circle cx="338.8" cy="717.2" r="3.7" fill-opacity="0.62"/>
<circle cx="332.5" cy="734.1" r="3.3" fill-opacity="0.62"/>
<circle cx="314.0" cy="699.9" r="4.1" fill-opacity="0.62"/>
<circle cx="332.9" cy="694.2" r="4.2" fill-opacity="0.62"/>
<circle cx="324.3" cy="706.3" r="4.0" fill-opacity="0.62"/>
<circle cx="320.0" cy="707.8" r="3.9" fill-opacity="0.62"/>
<circle cx="338.3" cy="679.0" r="4.5" fill-opacity="0.62"/>
<circle cx="340.5" cy="728.2" r="3.5" fill-opacity="0.62"/>
<circle cx="326.9" cy="681.7" r="4.5" fill-opacity="0.62"/>
<circle cx="313.1" cy="687.6" r="4.3" fill-opacity="0.62"/>
<circle cx="328.2" cy="721.1" r="3.6" fill-opacity="0.62"/>
<circle cx="334.2" cy="683.9" r="4.4" fill-opacity="0.62"/>
<circle cx="330.3" cy="734.7" r="3.3" fill-opacity="0.62"/>
<circle cx="343.4" cy="741.0" r="3.1" fill-opacity="0.62"/>
<circle cx="336.1" cy="697.5" r="4.1" fill-opacity="0.62"/>
<circle cx="329.2" cy="697.0" r="4.2" fill-opacity="0.62"/>
<circle cx="320.4" cy="700.6" r="4.1" fill-opacity="0.62"/>
<circle cx="331.4" cy="676.8" r="4.5" fill-opacity="0.62"/>
<circle cx="344.7" cy="733.2" r="3.3" fill-opacity="0.62"/>
<circle cx="340.3" cy="742.3" r="3.0" fill-opacity="0.62"/>
<circle cx="329.9" cy="685.2" r="4.4" fill-opacity="0.62"/>
<circle cx="320.7" cy="679.6" r="4.5" fill-opacity="0.62"/>
<circle cx="327.2" cy="680.3" r="4.5" fill-opacity="0.62"/>
<circle cx="312.7" cy="687.6" r="4.3" fill-opacity="0.62"/>
<circle cx="331.5" cy="730.9" r="3.4" fill-opacity="0.62"/>
<circle cx="332.8" cy="721.8" r="3.6" fill-opacity="0.62"/>
<circle cx="332.2" cy="698.4" r="4.1" fill-opacity="0.62"/>
<circle cx="326.6" cy="685.7" r="4.4" fill-opacity="0.62"/>
<circle cx="323.2" cy="714.6" r="3.8" fill-opacity="0.62"/>
<circle cx="327.7" cy="680.0" r="4.5" fill-opacity="0.62"/>
<circle cx="340.3" cy="732.6" r="3.3" fill-opacity="0.62"/>
<circle cx="334.6" cy="718.0" r="3.7" fill-opacity="0.62"/>
<circle cx="330.5" cy="720.7" r="3.6" fill-opacity="0.62"/>
<circle cx="331.7" cy="738.0" r="3.2" fill-opacity="0.62"/>
<circle cx="324.8" cy="723.0" r="3.6" fill-opacity="0.62"/>
<circle cx="336.3" cy="721.7" r="3.6" fill-opacity="0.62"/>
<circle cx="330.4" cy="704.0" r="4.0" fill-opacity="0.62"/>
<circle cx="319.0" cy="702.5" r="4.0" fill-opacity="0.62"/>
<circle cx="330.0" cy="738.3" r="3.2" fill-opacity="0.62"/>
<circle cx="328.7" cy="736.3" r="3.2" fill-opacity="0.62"/>
<circle cx="330.4" cy="712.3" r="3.8" fill-opacity="0.62"/>
<circle cx="333.1" cy="714.0" r="3.8" fill-opacity="0.62"/>
<circle cx="330.3" cy="682.0" r="4.5" fill-opacity="0.62"/>
<circle cx="318.2" cy="679.6" r="4.5" fill-opacity="0.62"/>
<circle cx="330.3" cy="705.7" r="4.0" fill-opacity="0.62"/>
<circle cx="326.2" cy="725.6" r="3.5" fill-opacity="0.62"/>
<circle cx="339.9" cy="702.2" r="4.1" fill-opacity="0.62"/>
<circle cx="321.4" cy="714.6" r="3.8" fill-opacity="0.62"/>
<circle cx="330.3" cy="730.1" r="3.4" fill-opacity="0.62"/>
<circle cx="330.6" cy="700.8" r="4.1" fill-opacity="0.62"/>
<circle cx="332.7" cy="689.3" r="4.3" fill-opacity="0.62"/>
<circle cx="332.0" cy="704.7" r="4.0" fill-opacity="0.62"/>
<circle cx="345.2" cy="737.0" r="3.2" fill-opacity="0.62"/>
<circle cx="342.2" cy="736.9" r="3.2" fill-opacity="0.62"/>
<circle cx="332.6" cy="698.6" r="4.1" fill-opacity="0.62"/>
<circle cx="334.3" cy="733.7" r="3.3" fill-opacity="0.62"/>
<circle cx="337.8" cy="726.1" r="3.5" fill-opacity="0.62"/>
<circle cx="334.7" cy="681.0" r="4.5" fill-opacity="0.62"/>
<circle cx="327.7" cy="722.8" r="3.6" fill-opacity="0.62"/>
<circle cx="331.2" cy="706.2" r="4.0" fill-opacity="0.62"/>
<circle cx="318.6" cy="682.0" r="4.5" fill-opacity="0.62"/>
<circle cx="337.7" cy="731.9" r="3.4" fill-opacity="0.62"/>
<circle cx="324.6" cy="694.8" r="4.2" fill-opacity="0.62"/>
<circle cx="338.4" cy="712.8" r="3.8" fill-opacity="0.62"/>
<circle cx="338.5" cy="742.6" r="3.0" fill-opacity="0.62"/>
<circle cx="336.2" cy="684.7" r="4.4" fill-opacity="0.62"/>
<circle cx="329.2" cy="731.8" r="3.4" fill-opacity="0.62"/>
<circle cx="334.5" cy="733.1" r="3.3" fill-opacity="0.62"/>
<circle cx="338.2" cy="708.3" r="3.9" fill-opacity="0.62"/>
<circle cx="331.3" cy="702.3" r="4.0" fill-opacity="0.62"/>
<circle cx="322.2" cy="679.3" r="4.5" fill-opacity="0.62"/>
<circle cx="328.3" cy="738.6" r="3.2" fill-opacity="0.62"/>
<circle cx="327.1" cy="686.1" r="4.4" fill-opacity="0.62"/>
<circle cx="328.2" cy="715.6" r="3.8" fill-opacity="0.62"/>
<circle cx="326.4" cy="674.2" r="4.6" fill-opacity="0.62"/>
<circle cx="337.9" cy="675.3" r="4.6" fill-opacity="0.62"/>
<circle cx="332.2" cy="677.1" r="4.5" fill-opacity="0.62"/>
<circle cx="327.8" cy="693.6" r="4.2" fill-opacity="0.62"/>
<circle cx="328.5" cy="692.8" r="4.2" fill-opacity="0.62"/>
<circle cx="334.1" cy="676.3" r="4.6" fill-opacity="0.62"/>
<circle cx="330.4" cy="719.7" r="3.7" fill-opacity="0.62"/>
<circle cx="337.0" cy="694.2" r="4.2" fill-opacity="0.62"/>
<circle cx="333.9" cy="695.8" r="4.2" fill-opacity="0.62"/>
<circle cx="326.2" cy="710.7" r="3.9" fill-opacity="0.62"/>
<circle cx="318.2" cy="713.7" r="3.8" fill-opacity="0.62"/>
<circle cx="340.1" cy="698.2" r="4.1" fill-opacity="0.62"/>
<circle cx="322.6" cy="708.7" r="3.9" fill-opacity="0.62"/>
<circle cx="317.5" cy="690.8" r="4.3" fill-opacity="0.62"/>
<circle cx="331.0" cy="706.7" r="4.0" fill-opacity="0.62"/>
<circle cx="314.6" cy="695.7" r="4.2" fill-opacity="0.62"/>
<circle cx="333.6" cy="695.7" r="4.2" fill-opacity="0.62"/>
<circle cx="330.1" cy="698.5" r="4.1" fill-opacity="0.62"/>
<circle cx="330.3" cy="679.6" r="4.5" fill-opacity="0.62"/>
<circle cx="343.8" cy="729.9" r="3.4" fill-opacity="0.62"/>
<circle cx="336.5" cy="678.7" r="4.5" fill-opacity="0.62"/>
<circle cx="313.0" cy="693.8" r="4.2" fill-opacity="0.62"/>
<circle cx="332.6" cy="685.7" r="4.4" fill-opacity="0.62"/>
<circle cx="319.6" cy="689.6" r="4.3" fill-opacity="0.62"/>
<circle cx="339.3" cy="720.8" r="3.6" fill-opacity="0.62"/>
<circle cx="330.2" cy="737.3" r="3.2" fill-opacity="0.62"/>
<circle cx="336.4" cy="687.4" r="4.3" fill-opacity="0.62"/>
<circle cx="333.7" cy="689.2" r="4.3" fill-opacity="0.62"/>
<circle cx="338.1" cy="720.8" r="3.6" fill-opacity="0.62"/>
<circle cx="325.5" cy="698.3" r="4.1" fill-opacity="0.62"/>
<circle cx="325.4" cy="677.1" r="4.5" fill-opacity="0.62"/>
<circle cx="323.3" cy="709.6" r="3.9" fill-opacity="0.62"/>
<circle cx="339.9" cy="707.4" r="3.9" fill-opacity="0.62"/>
<circle cx="333.2" cy="677.9" r="4.5" fill-opacity="0.62"/>
<circle cx="334.6" cy="674.0" r="4.6" fill-opacity="0.62"/>
<circle cx="340.0" cy="675.3" r="4.6" fill-opacity="0.62"/>
<circle cx="329.0" cy="675.5" r="4.6" fill-opacity="0.62"/>
<circle cx="325.0" cy="676.0" r="4.6" fill-opacity="0.62"/>
<circle cx="257.4" cy="672.6" r="4.5" fill-opacity="0.62"/>
<circle cx="261.8" cy="671.3" r="4.5" fill-opacity="0.62"/>
<circle cx="265.0" cy="672.6" r="4.5" fill-opacity="0.62"/>
<circle cx="268.8" cy="673.5" r="4.5" fill-opacity="0.62"/>
<circle cx="273.2" cy="675.4" r="4.5" fill-opacity="0.62"/>
<circle cx="302.6" cy="671.6" r="4.5" fill-opacity="0.62"/>
<circle cx="308.7" cy="677.7" r="4.4" fill-opacity="0.62"/>
<circle cx="211.8" cy="698.8" r="4.2" fill-opacity="0.62"/>
<circle cx="285.3" cy="698.6" r="4.2" fill-opacity="0.62"/>
<circle cx="297.3" cy="695.9" r="4.2" fill-opacity="0.62"/>
<circle cx="296.3" cy="709.6" r="3.8" fill-opacity="0.62"/>
<circle cx="293.5" cy="714.4" r="3.6" fill-opacity="0.62"/>
<circle cx="291.0" cy="718.2" r="3.5" fill-opacity="0.62"/>
<circle cx="286.4" cy="725.2" r="3.4" fill-opacity="0.62"/>
<circle cx="305.4" cy="720.6" r="3.6" fill-opacity="0.62"/>
<circle cx="313.8" cy="736.8" r="3.0" fill-opacity="0.62"/>
<circle cx="404.7" cy="671.9" r="4.6" fill-opacity="0.62"/>
<circle cx="397.0" cy="675.4" r="4.5" fill-opacity="0.62"/>
<circle cx="391.3" cy="678.2" r="4.5" fill-opacity="0.62"/>
<circle cx="398.7" cy="678.1" r="4.5" fill-opacity="0.62"/>
<circle cx="392.9" cy="676.5" r="4.5" fill-opacity="0.62"/>
<circle cx="420.6" cy="688.5" r="4.3" fill-opacity="0.62"/>
<circle cx="424.3" cy="691.2" r="4.3" fill-opacity="0.62"/>
<circle cx="440.8" cy="690.8" r="4.3" fill-opacity="0.62"/>
<circle cx="460.0" cy="687.2" r="4.3" fill-opacity="0.62"/>
<circle cx="409.4" cy="693.8" r="4.2" fill-opacity="0.62"/>
<circle cx="398.5" cy="695.6" r="4.2" fill-opacity="0.62"/>
<circle cx="462.4" cy="705.3" r="4.0" fill-opacity="0.62"/>
<circle cx="432.4" cy="706.8" r="4.0" fill-opacity="0.62"/>
<circle cx="430.0" cy="708.0" r="4.0" fill-opacity="0.62"/>
<circle cx="421.6" cy="707.0" r="4.0" fill-opacity="0.62"/>
<circle cx="417.7" cy="707.1" r="4.0" fill-opacity="0.62"/>
<circle cx="408.0" cy="708.5" r="4.0" fill-opacity="0.62"/>
<circle cx="402.0" cy="710.5" r="3.9" fill-opacity="0.62"/>
<circle cx="396.8" cy="714.6" r="3.8" fill-opacity="0.62"/>
<circle cx="412.4" cy="719.0" r="3.7" fill-opacity="0.62"/>
<circle cx="408.0" cy="722.0" r="3.6" fill-opacity="0.62"/>
<circle cx="427.7" cy="720.8" r="3.6" fill-opacity="0.62"/>
<circle cx="394.6" cy="725.0" r="3.5" fill-opacity="0.62"/>
<circle cx="389.3" cy="730.8" r="3.3" fill-opacity="0.62"/>
<circle cx="387.2" cy="720.9" r="3.6" fill-opacity="0.62"/>
<circle cx="388.0" cy="688.8" r="4.3" fill-opacity="0.62"/>
</g>
<g fill="rgb(92,166,228)">
<circle cx="306.8" cy="568.6" r="6.1" fill-opacity="0.66"/>
<circle cx="321.0" cy="598.0" r="5.7" fill-opacity="0.66"/>
<circle cx="290.6" cy="608.5" r="5.5" fill-opacity="0.66"/>
<circle cx="297.3" cy="609.2" r="5.5" fill-opacity="0.66"/>
<circle cx="338.7" cy="609.0" r="5.3" fill-opacity="0.66"/>
<circle cx="216.0" cy="622.5" r="5.6" fill-opacity="0.66"/>
<circle cx="239.0" cy="662.1" r="4.8" fill-opacity="0.66"/>
<circle cx="318.2" cy="640.9" r="5.0" fill-opacity="0.66"/>
<circle cx="315.3" cy="646.0" r="5.0" fill-opacity="0.66"/>
<circle cx="313.0" cy="651.1" r="5.0" fill-opacity="0.66"/>
<circle cx="326.3" cy="653.6" r="4.8" fill-opacity="0.66"/>
<circle cx="334.3" cy="654.6" r="4.8" fill-opacity="0.66"/>
<circle cx="337.1" cy="656.5" r="4.8" fill-opacity="0.66"/>
<circle cx="317.6" cy="659.9" r="4.8" fill-opacity="0.66"/>
<circle cx="309.6" cy="660.6" r="4.8" fill-opacity="0.66"/>
<circle cx="301.6" cy="661.8" r="4.8" fill-opacity="0.66"/>
<circle cx="315.3" cy="666.9" r="4.6" fill-opacity="0.66"/>
</g>
<g fill="rgb(228,82,58)">
<circle cx="363.1" cy="651.2" r="5.3" fill-opacity="0.6"/>
<circle cx="365.7" cy="647.4" r="5.4" fill-opacity="0.6"/>
<circle cx="362.4" cy="660.9" r="5.1" fill-opacity="0.6"/>
<circle cx="374.3" cy="661.9" r="5.1" fill-opacity="0.6"/>
<circle cx="380.7" cy="655.9" r="5.2" fill-opacity="0.6"/>
<circle cx="383.3" cy="656.2" r="5.2" fill-opacity="0.6"/>
<circle cx="371.3" cy="657.2" r="5.2" fill-opacity="0.6"/>
<circle cx="368.5" cy="660.3" r="5.1" fill-opacity="0.6"/>
<circle cx="386.9" cy="659.7" r="5.2" fill-opacity="0.6"/>
<circle cx="370.3" cy="661.1" r="5.1" fill-opacity="0.6"/>
<circle cx="394.3" cy="661.0" r="5.1" fill-opacity="0.6"/>
<circle cx="369.5" cy="654.0" r="5.3" fill-opacity="0.6"/>
<circle cx="393.5" cy="655.5" r="5.2" fill-opacity="0.6"/>
<circle cx="361.6" cy="646.9" r="5.4" fill-opacity="0.6"/>
<circle cx="383.1" cy="654.5" r="5.2" fill-opacity="0.6"/>
<circle cx="372.2" cy="661.0" r="5.1" fill-opacity="0.6"/>
<circle cx="367.3" cy="665.8" r="5.0" fill-opacity="0.6"/>
<circle cx="362.4" cy="660.6" r="5.1" fill-opacity="0.6"/>
<circle cx="366.2" cy="644.6" r="5.4" fill-opacity="0.6"/>
<circle cx="377.0" cy="645.3" r="5.4" fill-opacity="0.6"/>
<circle cx="365.9" cy="656.2" r="5.2" fill-opacity="0.6"/>
<circle cx="372.0" cy="664.7" r="5.1" fill-opacity="0.6"/>
<circle cx="366.8" cy="647.3" r="5.4" fill-opacity="0.6"/>
<circle cx="392.5" cy="660.2" r="5.1" fill-opacity="0.6"/>
<circle cx="362.0" cy="647.6" r="5.4" fill-opacity="0.6"/>
<circle cx="367.9" cy="661.1" r="5.1" fill-opacity="0.6"/>
<circle cx="376.5" cy="665.6" r="5.1" fill-opacity="0.6"/>
<circle cx="371.7" cy="658.0" r="5.2" fill-opacity="0.6"/>
<circle cx="375.6" cy="661.6" r="5.1" fill-opacity="0.6"/>
<circle cx="391.7" cy="651.1" r="5.3" fill-opacity="0.6"/>
<circle cx="384.3" cy="646.4" r="5.4" fill-opacity="0.6"/>
<circle cx="381.3" cy="645.4" r="5.4" fill-opacity="0.6"/>
<circle cx="390.5" cy="652.8" r="5.3" fill-opacity="0.6"/>
<circle cx="378.8" cy="645.3" r="5.4" fill-opacity="0.6"/>
<circle cx="392.5" cy="653.0" r="5.3" fill-opacity="0.6"/>
<circle cx="381.0" cy="664.8" r="5.1" fill-opacity="0.6"/>
<circle cx="369.0" cy="648.9" r="5.3" fill-opacity="0.6"/>
<circle cx="375.2" cy="649.8" r="5.3" fill-opacity="0.6"/>
<circle cx="367.3" cy="649.1" r="5.3" fill-opacity="0.6"/>
<circle cx="382.3" cy="660.7" r="5.1" fill-opacity="0.6"/>
<circle cx="394.9" cy="650.6" r="5.3" fill-opacity="0.6"/>
<circle cx="379.7" cy="648.8" r="5.3" fill-opacity="0.6"/>
<circle cx="388.9" cy="647.4" r="5.4" fill-opacity="0.6"/>
<circle cx="368.7" cy="663.1" r="5.1" fill-opacity="0.6"/>
<circle cx="388.8" cy="660.5" r="5.1" fill-opacity="0.6"/>
<circle cx="371.6" cy="650.2" r="5.3" fill-opacity="0.6"/>
<circle cx="391.6" cy="654.7" r="5.2" fill-opacity="0.6"/>
<circle cx="383.1" cy="647.6" r="5.4" fill-opacity="0.6"/>
<circle cx="375.8" cy="657.1" r="5.2" fill-opacity="0.6"/>
<circle cx="391.5" cy="656.7" r="5.2" fill-opacity="0.6"/>
<circle cx="390.2" cy="648.6" r="5.3" fill-opacity="0.6"/>
<circle cx="387.4" cy="651.9" r="5.3" fill-opacity="0.6"/>
<circle cx="365.7" cy="663.0" r="5.1" fill-opacity="0.6"/>
<circle cx="394.3" cy="663.0" r="5.1" fill-opacity="0.6"/>
<circle cx="360.8" cy="650.5" r="5.3" fill-opacity="0.6"/>
<circle cx="391.8" cy="646.5" r="5.4" fill-opacity="0.6"/>
<circle cx="388.6" cy="644.2" r="5.4" fill-opacity="0.6"/>
<circle cx="384.7" cy="647.3" r="5.4" fill-opacity="0.6"/>
<circle cx="366.8" cy="646.1" r="5.4" fill-opacity="0.6"/>
<circle cx="362.4" cy="659.0" r="5.2" fill-opacity="0.6"/>
<circle cx="392.3" cy="651.5" r="5.3" fill-opacity="0.6"/>
<circle cx="391.2" cy="659.8" r="5.2" fill-opacity="0.6"/>
<circle cx="360.6" cy="665.6" r="5.1" fill-opacity="0.6"/>
<circle cx="387.4" cy="649.2" r="5.3" fill-opacity="0.6"/>
<circle cx="360.5" cy="659.2" r="5.2" fill-opacity="0.6"/>
<circle cx="367.8" cy="655.1" r="5.2" fill-opacity="0.6"/>
<circle cx="363.3" cy="653.5" r="5.3" fill-opacity="0.6"/>
<circle cx="391.0" cy="644.4" r="5.4" fill-opacity="0.6"/>
<circle cx="390.8" cy="651.0" r="5.3" fill-opacity="0.6"/>
<circle cx="376.7" cy="646.7" r="5.4" fill-opacity="0.6"/>
<circle cx="374.9" cy="647.0" r="5.4" fill-opacity="0.6"/>
<circle cx="383.3" cy="647.9" r="5.4" fill-opacity="0.6"/>
<circle cx="384.8" cy="647.3" r="5.4" fill-opacity="0.6"/>
<circle cx="363.4" cy="655.0" r="5.2" fill-opacity="0.6"/>
<circle cx="377.4" cy="651.8" r="5.3" fill-opacity="0.6"/>
<circle cx="371.5" cy="664.2" r="5.1" fill-opacity="0.6"/>
<circle cx="393.1" cy="648.7" r="5.3" fill-opacity="0.6"/>
<circle cx="384.9" cy="663.4" r="5.1" fill-opacity="0.6"/>
<circle cx="366.2" cy="650.0" r="5.3" fill-opacity="0.6"/>
<circle cx="362.5" cy="649.8" r="5.3" fill-opacity="0.6"/>
<circle cx="377.1" cy="645.0" r="5.4" fill-opacity="0.6"/>
<circle cx="379.5" cy="653.0" r="5.3" fill-opacity="0.6"/>
<circle cx="360.1" cy="652.0" r="5.3" fill-opacity="0.6"/>
<circle cx="383.0" cy="659.1" r="5.2" fill-opacity="0.6"/>
<circle cx="379.3" cy="656.0" r="5.2" fill-opacity="0.6"/>
<circle cx="395.0" cy="659.2" r="5.2" fill-opacity="0.6"/>
<circle cx="384.5" cy="663.2" r="5.1" fill-opacity="0.6"/>
<circle cx="371.0" cy="652.8" r="5.3" fill-opacity="0.6"/>
<circle cx="394.4" cy="653.2" r="5.3" fill-opacity="0.6"/>
<circle cx="373.4" cy="652.5" r="5.3" fill-opacity="0.6"/>
<circle cx="364.7" cy="653.0" r="5.3" fill-opacity="0.6"/>
<circle cx="359.7" cy="666.0" r="5.0" fill-opacity="0.6"/>
<circle cx="393.2" cy="657.4" r="5.2" fill-opacity="0.6"/>
<circle cx="381.3" cy="649.6" r="5.3" fill-opacity="0.6"/>
<circle cx="368.3" cy="652.3" r="5.3" fill-opacity="0.6"/>
<circle cx="364.5" cy="648.4" r="5.4" fill-opacity="0.6"/>
<circle cx="387.0" cy="662.5" r="5.1" fill-opacity="0.6"/>
<circle cx="361.1" cy="664.0" r="5.1" fill-opacity="0.6"/>
<circle cx="370.9" cy="659.3" r="5.2" fill-opacity="0.6"/>
<circle cx="379.3" cy="658.2" r="5.2" fill-opacity="0.6"/>
<circle cx="394.1" cy="650.9" r="5.3" fill-opacity="0.6"/>
<circle cx="383.8" cy="644.0" r="5.4" fill-opacity="0.6"/>
<circle cx="377.3" cy="662.8" r="5.1" fill-opacity="0.6"/>
<circle cx="395.7" cy="657.0" r="5.2" fill-opacity="0.6"/>
<circle cx="381.8" cy="649.2" r="5.3" fill-opacity="0.6"/>
<circle cx="379.7" cy="632.2" r="5.6" fill-opacity="0.6"/>
<circle cx="379.9" cy="631.2" r="5.6" fill-opacity="0.6"/>
<circle cx="382.2" cy="625.6" r="5.7" fill-opacity="0.6"/>
<circle cx="379.2" cy="630.2" r="5.7" fill-opacity="0.6"/>
<circle cx="381.4" cy="628.7" r="5.7" fill-opacity="0.6"/>
<circle cx="382.2" cy="616.3" r="5.9" fill-opacity="0.6"/>
<circle cx="385.3" cy="617.6" r="5.9" fill-opacity="0.6"/>
<circle cx="383.3" cy="623.9" r="5.8" fill-opacity="0.6"/>
<circle cx="380.8" cy="625.4" r="5.7" fill-opacity="0.6"/>
<circle cx="377.3" cy="616.2" r="5.9" fill-opacity="0.6"/>
<circle cx="381.3" cy="637.8" r="5.5" fill-opacity="0.6"/>
<circle cx="381.3" cy="625.5" r="5.7" fill-opacity="0.6"/>
<circle cx="378.3" cy="634.3" r="5.6" fill-opacity="0.6"/>
<circle cx="384.3" cy="614.8" r="5.9" fill-opacity="0.6"/>
<circle cx="382.5" cy="623.5" r="5.8" fill-opacity="0.6"/>
<circle cx="385.1" cy="634.7" r="5.6" fill-opacity="0.6"/>
<circle cx="376.2" cy="636.0" r="5.6" fill-opacity="0.6"/>
<circle cx="384.5" cy="621.1" r="5.8" fill-opacity="0.6"/>
<circle cx="377.1" cy="634.4" r="5.6" fill-opacity="0.6"/>
<circle cx="378.4" cy="614.2" r="5.9" fill-opacity="0.6"/>
<circle cx="379.5" cy="612.6" r="5.9" fill-opacity="0.6"/>
<circle cx="381.2" cy="634.0" r="5.6" fill-opacity="0.6"/>
<circle cx="376.7" cy="623.3" r="5.8" fill-opacity="0.6"/>
<circle cx="386.2" cy="621.6" r="5.8" fill-opacity="0.6"/>
<circle cx="380.5" cy="630.7" r="5.6" fill-opacity="0.6"/>
<circle cx="384.1" cy="624.1" r="5.8" fill-opacity="0.6"/>
<circle cx="377.4" cy="632.6" r="5.6" fill-opacity="0.6"/>
<circle cx="379.6" cy="630.2" r="5.7" fill-opacity="0.6"/>
<circle cx="378.3" cy="625.4" r="5.7" fill-opacity="0.6"/>
<circle cx="379.3" cy="620.8" r="5.8" fill-opacity="0.6"/>
<circle cx="376.0" cy="621.1" r="5.8" fill-opacity="0.6"/>
<circle cx="381.7" cy="615.6" r="5.9" fill-opacity="0.6"/>
<circle cx="377.7" cy="611.3" r="6.0" fill-opacity="0.6"/>
<circle cx="378.7" cy="631.4" r="5.6" fill-opacity="0.6"/>
<circle cx="367.3" cy="635.1" r="5.6" fill-opacity="0.6"/>
<circle cx="358.8" cy="631.7" r="5.6" fill-opacity="0.6"/>
<circle cx="405.5" cy="649.4" r="5.3" fill-opacity="0.6"/>
<circle cx="402.1" cy="657.3" r="5.2" fill-opacity="0.6"/>
<circle cx="353.1" cy="652.8" r="5.3" fill-opacity="0.6"/>
<circle cx="422.0" cy="494.0" r="6.6" fill-opacity="0.6"/>
<circle cx="406.5" cy="514.5" r="6.5" fill-opacity="0.6"/>
<circle cx="430.8" cy="531.6" r="6.4" fill-opacity="0.6"/>
<circle cx="430.8" cy="539.2" r="6.4" fill-opacity="0.6"/>
<circle cx="393.7" cy="549.0" r="6.2" fill-opacity="0.6"/>
<circle cx="390.9" cy="552.8" r="6.0" fill-opacity="0.6"/>
<circle cx="379.9" cy="551.0" r="6.1" fill-opacity="0.6"/>
<circle cx="368.1" cy="571.0" r="6.0" fill-opacity="0.6"/>
<circle cx="403.8" cy="575.0" r="6.0" fill-opacity="0.6"/>
<circle cx="424.1" cy="579.5" r="5.8" fill-opacity="0.6"/>
<circle cx="427.0" cy="584.6" r="5.8" fill-opacity="0.6"/>
<circle cx="365.6" cy="586.0" r="5.8" fill-opacity="0.6"/>
<circle cx="384.0" cy="584.6" r="5.8" fill-opacity="0.6"/>
<circle cx="375.1" cy="594.4" r="5.7" fill-opacity="0.6"/>
<circle cx="388.4" cy="594.7" r="5.7" fill-opacity="0.6"/>
<circle cx="397.0" cy="599.4" r="5.6" fill-opacity="0.6"/>
<circle cx="362.8" cy="600.1" r="5.6" fill-opacity="0.6"/>
<circle cx="366.6" cy="604.2" r="5.6" fill-opacity="0.6"/>
<circle cx="390.3" cy="602.3" r="5.6" fill-opacity="0.6"/>
<circle cx="379.9" cy="607.0" r="5.6" fill-opacity="0.6"/>
<circle cx="393.2" cy="608.9" r="5.5" fill-opacity="0.6"/>
<circle cx="414.0" cy="612.1" r="5.5" fill-opacity="0.6"/>
<circle cx="351.4" cy="614.8" r="5.5" fill-opacity="0.6"/>
<circle cx="403.6" cy="616.5" r="5.5" fill-opacity="0.6"/>
<circle cx="362.8" cy="612.7" r="5.5" fill-opacity="0.6"/>
<circle cx="377.0" cy="610.8" r="5.5" fill-opacity="0.6"/>
<circle cx="383.7" cy="613.7" r="5.5" fill-opacity="0.6"/>
<circle cx="385.6" cy="619.4" r="5.4" fill-opacity="0.6"/>
<circle cx="354.2" cy="624.1" r="5.4" fill-opacity="0.6"/>
<circle cx="363.7" cy="625.0" r="5.4" fill-opacity="0.6"/>
<circle cx="378.0" cy="625.0" r="5.4" fill-opacity="0.6"/>
<circle cx="383.7" cy="627.0" r="5.4" fill-opacity="0.6"/>
<circle cx="359.0" cy="631.7" r="5.3" fill-opacity="0.6"/>
<circle cx="404.6" cy="629.2" r="5.3" fill-opacity="0.6"/>
<circle cx="409.3" cy="630.4" r="5.3" fill-opacity="0.6"/>
<circle cx="376.0" cy="632.7" r="5.3" fill-opacity="0.6"/>
<circle cx="387.5" cy="634.6" r="5.3" fill-opacity="0.6"/>
<circle cx="414.0" cy="641.2" r="5.2" fill-opacity="0.6"/>
<circle cx="464.9" cy="636.9" r="5.3" fill-opacity="0.6"/>
<circle cx="368.5" cy="635.5" r="5.3" fill-opacity="0.6"/>
<circle cx="380.8" cy="638.4" r="5.2" fill-opacity="0.6"/>
<circle cx="397.0" cy="644.0" r="5.2" fill-opacity="0.6"/>
<circle cx="404.6" cy="648.8" r="5.1" fill-opacity="0.6"/>
<circle cx="353.3" cy="653.0" r="5.0" fill-opacity="0.6"/>
<circle cx="401.7" cy="657.7" r="5.0" fill-opacity="0.6"/>
</g>
</g>
<line x1="335.6" y1="614.2" x2="333.0" y2="620.4" stroke="#222" stroke-width="1"/>
<rect x="198.9" y="481.4" width="278.8" height="278.0" fill="none" stroke="#1a1a1a" stroke-width="1.45"/>
<line x1="196.1" x2="198.9" y1="747.5" y2="747.5" stroke="#222" stroke-width="1"/>
<text x="194.6" y="751.2" font-size="10.5" text-anchor="end" fill="#1a1a1a" stroke="#1a1a1a" stroke-width="0.22">0</text>
<line x1="196.1" x2="198.9" y1="687.3" y2="687.3" stroke="#222" stroke-width="1"/>
<text x="194.6" y="691.0" font-size="10.5" text-anchor="end" fill="#1a1a1a" stroke="#1a1a1a" stroke-width="0.22">1</text>
<line x1="196.1" x2="198.9" y1="627.1" y2="627.1" stroke="#222" stroke-width="1"/>
<text x="194.6" y="630.8" font-size="10.5" text-anchor="end" fill="#1a1a1a" stroke="#1a1a1a" stroke-width="0.22">2</text>
<line x1="196.1" x2="198.9" y1="566.9" y2="566.9" stroke="#222" stroke-width="1"/>
<text x="194.6" y="570.6" font-size="10.5" text-anchor="end" fill="#1a1a1a" stroke="#1a1a1a" stroke-width="0.22">3</text>
<line x1="196.1" x2="198.9" y1="506.7" y2="506.7" stroke="#222" stroke-width="1"/>
<text x="194.6" y="510.4" font-size="10.5" text-anchor="end" fill="#1a1a1a" stroke="#1a1a1a" stroke-width="0.22">4</text>
<line x1="233.0" x2="233.0" y1="759.4" y2="762.2" stroke="#222" stroke-width="1"/>
<text x="233.0" y="772.7" font-size="10.5" text-anchor="middle" fill="#1a1a1a" stroke="#1a1a1a" stroke-width="0.22">−2</text>
<line x1="290.1" x2="290.1" y1="759.4" y2="762.2" stroke="#222" stroke-width="1"/>
<text x="290.1" y="772.7" font-size="10.5" text-anchor="middle" fill="#1a1a1a" stroke="#1a1a1a" stroke-width="0.22">−1</text>
<line x1="347.1" x2="347.1" y1="759.4" y2="762.2" stroke="#222" stroke-width="1"/>
<text x="347.1" y="772.7" font-size="10.5" text-anchor="middle" fill="#1a1a1a" stroke="#1a1a1a" stroke-width="0.22">0</text>
<line x1="404.2" x2="404.2" y1="759.4" y2="762.2" stroke="#222" stroke-width="1"/>
<text x="404.2" y="772.7" font-size="10.5" text-anchor="middle" fill="#1a1a1a" stroke="#1a1a1a" stroke-width="0.22">1</text>
<line x1="461.2" x2="461.2" y1="759.4" y2="762.2" stroke="#222" stroke-width="1"/>
<text x="461.2" y="772.7" font-size="10.5" text-anchor="middle" fill="#1a1a1a" stroke="#1a1a1a" stroke-width="0.22">2</text>
<text x="338.3" y="787.3" font-size="12.6" text-anchor="middle" textLength="123.5" lengthAdjust="spacingAndGlyphs" fill="#1a1a1a" stroke="#1a1a1a" stroke-width="0.22">Normalized effect size</text>
<text transform="translate(181.0,620.5) rotate(-90)" font-size="12.3" text-anchor="middle" fill="#1a1a1a" textLength="90.3" lengthAdjust="spacingAndGlyphs">−log10(P−value)</text>
<text x="431.9" y="495.9" font-size="9.3" textLength="29.0" lengthAdjust="spacingAndGlyphs" fill="#E0604A" stroke="#E0604A" stroke-width="0.22">CD160</text>
<text x="378.0" y="504.3" font-size="9.3" fill="#E0604A" stroke="#E0604A" stroke-width="0.22">CXCL10</text>
<text x="430.6" y="522.0" font-size="9.3" fill="#E0604A" stroke="#E0604A" stroke-width="0.22">MCP2</text>
<text x="388.9" y="539.6" font-size="9.3" fill="#E0604A" stroke="#E0604A" stroke-width="0.22">NINJ1</text>
<text x="429.6" y="555.6" font-size="9.3" fill="#E0604A" stroke="#E0604A" stroke-width="0.22">CXCL9</text>
<text x="280.2" y="558.9" font-size="9.3" textLength="29.4" lengthAdjust="spacingAndGlyphs" fill="#66A8E0" stroke="#66A8E0" stroke-width="0.22">CYR61</text>
<text x="318.3" y="588.3" font-size="9.3" fill="#66A8E0" stroke="#66A8E0" stroke-width="0.22">B4GAT1</text>
<text x="259.3" y="598.4" font-size="9.3" textLength="40.8" lengthAdjust="spacingAndGlyphs" fill="#66A8E0" stroke="#66A8E0" stroke-width="0.22">WFIKKN2</text>
<text x="273.5" y="625.0" font-size="9.3" fill="#66A8E0" stroke="#66A8E0" stroke-width="0.22">CES1</text>
<text x="322.0" y="625.0" font-size="9.3" fill="#66A8E0" stroke="#66A8E0" stroke-width="0.22">F7</text>
<text x="483.9" y="609.2" font-size="12.7" textLength="67.8" lengthAdjust="spacingAndGlyphs" fill="#1a1a1a" stroke="#1a1a1a" stroke-width="0.22">Mut vs Cont</text>
<circle cx="490.9" cy="619.9" r="2.4" fill="#EC9383"/>
<circle cx="490.9" cy="634.8" r="2.4" fill="#8a8a8a"/>
<circle cx="491.0" cy="649.8" r="2.4" fill="#93C3EC"/>
<text x="498.7" y="622.5" font-size="10.8" fill="#1a1a1a" stroke="#1a1a1a" stroke-width="0.22">Up</text>
<text x="498.7" y="637.5" font-size="10.8" textLength="54.9" lengthAdjust="spacingAndGlyphs" fill="#1a1a1a" stroke="#1a1a1a" stroke-width="0.22">Unchanged</text>
<text x="498.7" y="652.4" font-size="10.8" textLength="27.3" lengthAdjust="spacingAndGlyphs" fill="#1a1a1a" stroke="#1a1a1a" stroke-width="0.22">Down</text>
<rect x="838.7" y="479.6" width="161.1" height="21.6" fill="#E87A69"/>
<rect x="838.7" y="506.1" width="118.0" height="21.6" fill="#E87A69"/>
<rect x="838.7" y="532.7" width="77.5" height="21.6" fill="#E87A69"/>
<rect x="838.7" y="559.4" width="69.7" height="21.6" fill="#E87A69"/>
<rect x="838.7" y="585.9" width="63.6" height="21.6" fill="#E87A69"/>
<rect x="838.7" y="612.0" width="61.3" height="21.6" fill="#E87A69"/>
<rect x="838.7" y="638.3" width="56.7" height="21.6" fill="#E87A69"/>
<rect x="838.7" y="665.0" width="55.3" height="21.6" fill="#E87A69"/>
<rect x="810.6" y="691.2" width="28.1" height="21.6" fill="#6CACE4"/>
<rect x="811.9" y="717.8" width="26.8" height="21.6" fill="#6CACE4"/>
<text x="835.2" y="494.5" font-size="11" text-anchor="end" textLength="111.2" lengthAdjust="spacingAndGlyphs" fill="#2a2a2a" stroke="#2a2a2a" stroke-width="0.22">Inflammatory response</text>
<text x="834.3" y="521.6" font-size="11" text-anchor="end" textLength="86.9" lengthAdjust="spacingAndGlyphs" fill="#2a2a2a" stroke="#2a2a2a" stroke-width="0.22">Immune response</text>
<text x="833.8" y="542.3" font-size="11" text-anchor="end" textLength="176.6" lengthAdjust="spacingAndGlyphs" fill="#2a2a2a" stroke="#2a2a2a" stroke-width="0.22">Homophilic cell adhesion via plasma</text>
<text x="833.8" y="551.7" font-size="11" text-anchor="end" textLength="152.7" lengthAdjust="spacingAndGlyphs" fill="#2a2a2a" stroke="#2a2a2a" stroke-width="0.22">membrane adhesion molecules</text>
<text x="832.9" y="569.9" font-size="11" text-anchor="end" textLength="200.8" lengthAdjust="spacingAndGlyphs" fill="#2a2a2a" stroke="#2a2a2a" stroke-width="0.22">Heterophilic cell-cell adhesion via plasma</text>
<text x="831.1" y="579.0" font-size="11" text-anchor="end" textLength="171.4" lengthAdjust="spacingAndGlyphs" fill="#2a2a2a" stroke="#2a2a2a" stroke-width="0.22">membrane cell adhesion molecules</text>
<text x="832.7" y="595.9" font-size="11" text-anchor="end" textLength="154.3" lengthAdjust="spacingAndGlyphs" fill="#2a2a2a" stroke="#2a2a2a" stroke-width="0.22">Positive regulation of interferon-</text>
<text x="832.7" y="605.2" font-size="11" text-anchor="end" textLength="90.5" lengthAdjust="spacingAndGlyphs" fill="#2a2a2a" stroke="#2a2a2a" stroke-width="0.22">gamma production</text>
<text x="832.7" y="626.2" font-size="11" text-anchor="end" textLength="174.4" lengthAdjust="spacingAndGlyphs" fill="#2a2a2a" stroke="#2a2a2a" stroke-width="0.22">Negative regulation of angiogenesis</text>
<text x="831.5" y="648.5" font-size="11" text-anchor="end" textLength="148.1" lengthAdjust="spacingAndGlyphs" fill="#2a2a2a" stroke="#2a2a2a" stroke-width="0.22">Positive regulation of activated</text>
<text x="833.4" y="658.1" font-size="11" text-anchor="end" textLength="85.5" lengthAdjust="spacingAndGlyphs" fill="#2a2a2a" stroke="#2a2a2a" stroke-width="0.22">T cell proliferation</text>
<text x="834.0" y="678.6" font-size="11" text-anchor="end" textLength="140.8" lengthAdjust="spacingAndGlyphs" fill="#2a2a2a" stroke="#2a2a2a" stroke-width="0.22">Leukocyte tethering or rolling</text>
<text x="844.1" y="704.8" font-size="11" textLength="65.9" lengthAdjust="spacingAndGlyphs" fill="#2a2a2a" stroke="#2a2a2a" stroke-width="0.22">Cell adhesion</text>
<text x="843.0" y="732.2" font-size="11" textLength="182.6" lengthAdjust="spacingAndGlyphs" fill="#2a2a2a" stroke="#2a2a2a" stroke-width="0.22">Glycosaminoglycan catabolic process</text>
<line x1="734.9" x2="1006.6" y1="741.9" y2="741.9" stroke="#333" stroke-width="1.8"/>
<line x1="764.9" x2="764.9" y1="741.9" y2="747.8" stroke="#333" stroke-width="1.3"/>
<text x="764.9" y="759.8" font-size="10.5" text-anchor="middle" fill="#2a2a2a" stroke="#2a2a2a" stroke-width="0.22">5</text>
<line x1="838.7" x2="838.7" y1="741.9" y2="747.8" stroke="#333" stroke-width="1.3"/>
<text x="838.7" y="759.8" font-size="10.5" text-anchor="middle" fill="#2a2a2a" stroke="#2a2a2a" stroke-width="0.22">0</text>
<line x1="912.6" x2="912.6" y1="741.9" y2="747.8" stroke="#333" stroke-width="1.3"/>
<text x="912.6" y="759.8" font-size="10.5" text-anchor="middle" fill="#2a2a2a" stroke="#2a2a2a" stroke-width="0.22">5</text>
<line x1="986.4" x2="986.4" y1="741.9" y2="747.8" stroke="#333" stroke-width="1.3"/>
<text x="986.4" y="759.8" font-size="10.5" text-anchor="middle" fill="#2a2a2a" stroke="#2a2a2a" stroke-width="0.22">10</text>
<text x="816.3" y="773.6" font-size="12.5" textLength="84.8" lengthAdjust="spacingAndGlyphs" fill="#2a2a2a" stroke="#2a2a2a" stroke-width="0.22">-log10(P-value)</text>
<text x="981.6" y="593.8" font-size="12.5" textLength="66.5" lengthAdjust="spacingAndGlyphs" fill="#2a2a2a" stroke="#2a2a2a" stroke-width="0.22">Mut vs Cont</text>
<rect x="987.3" y="601.4" width="15.2" height="14.6" fill="#E25C40"/>
<rect x="987.3" y="618.9" width="15.2" height="14.6" fill="#5CA0DC"/>
<text x="1008.9" y="612.0" font-size="10.5" fill="#2a2a2a" stroke="#2a2a2a" stroke-width="0.22">Up</text>
<text x="1008.9" y="629.6" font-size="10.5" textLength="26.7" lengthAdjust="spacingAndGlyphs" fill="#2a2a2a" stroke="#2a2a2a" stroke-width="0.22">Down</text>
</g>
</svg></body></html>
